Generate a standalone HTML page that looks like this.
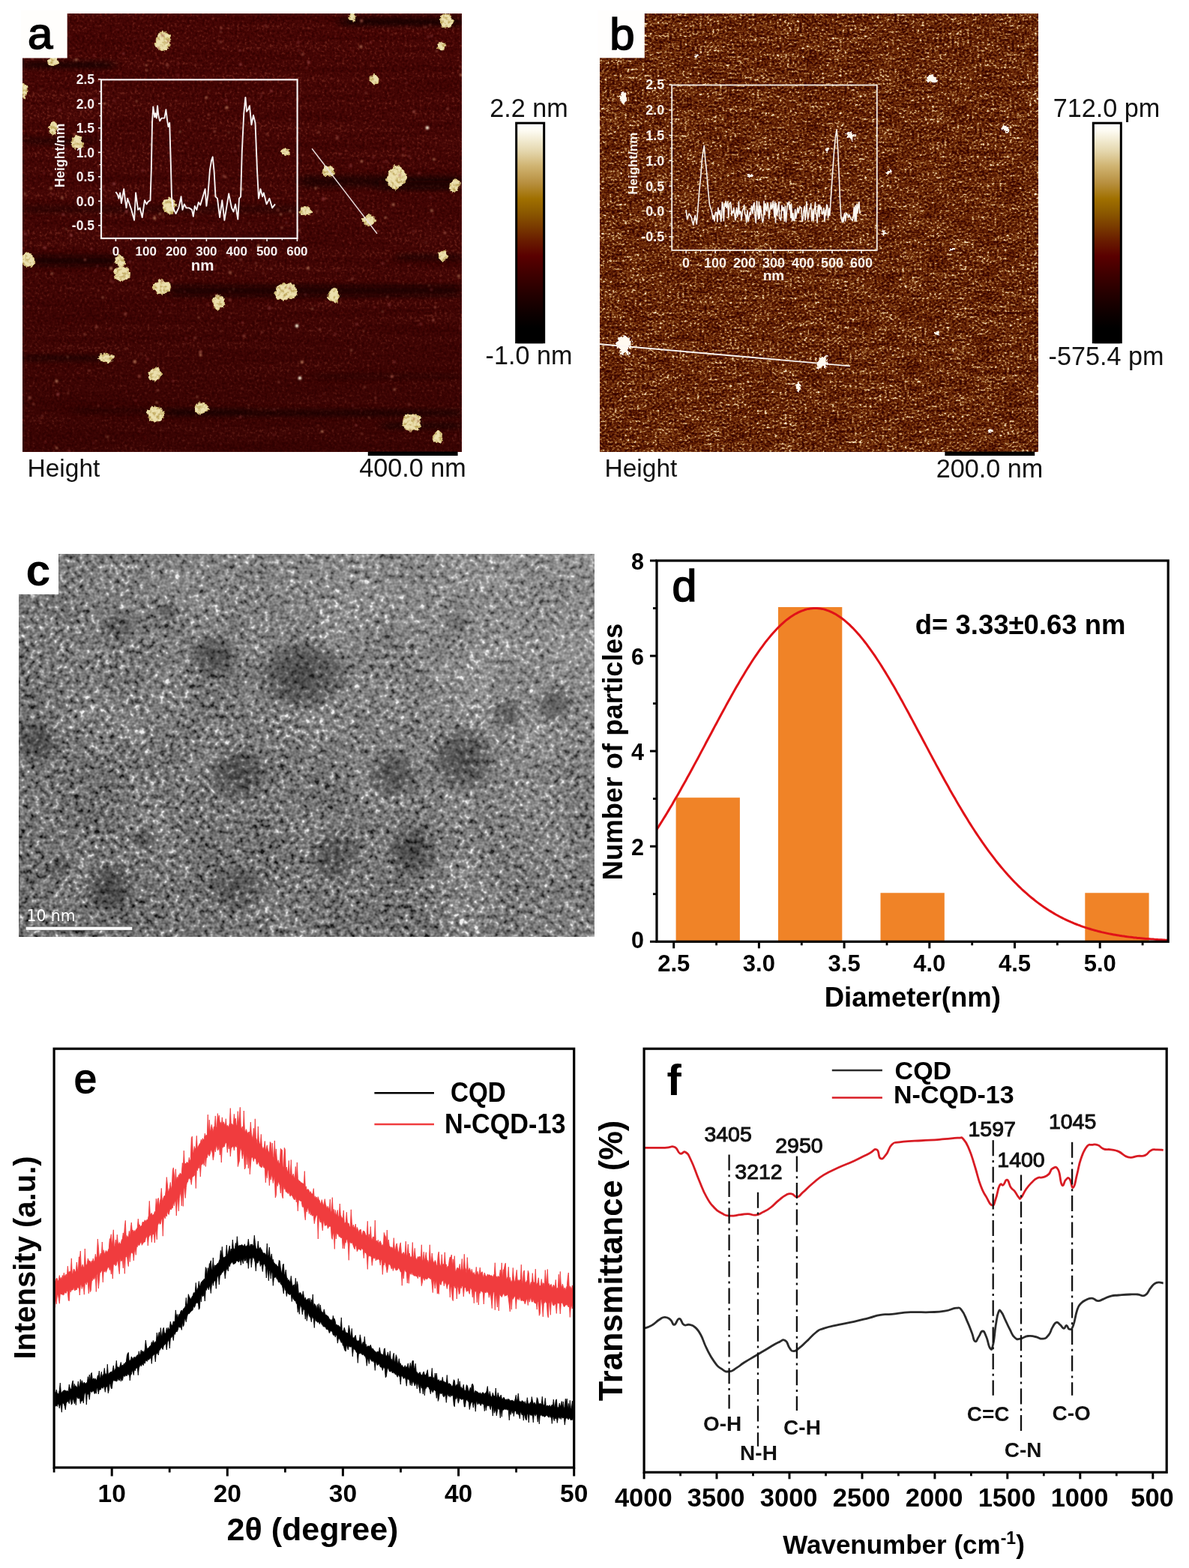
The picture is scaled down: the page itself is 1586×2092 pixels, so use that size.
<!DOCTYPE html>
<html lang="en"><head><meta charset="utf-8"><title>Figure</title>
<style>
html,body{margin:0;padding:0;background:#fff;}
body{width:1586px;height:2092px;overflow:hidden;font-family:"Liberation Sans",Arial,sans-serif;}
svg{display:block;}
svg text{font-family:"Liberation Sans",Arial,sans-serif;}
.b{font-weight:bold;}
</style></head><body>
<svg width="1586" height="2092" viewBox="0 0 1586 2092">
<defs><linearGradient id="cbar" x1="0" y1="0" x2="0" y2="1"><stop offset="0%" stop-color="#ffffff"/><stop offset="3%" stop-color="#fdfbf2"/><stop offset="8%" stop-color="#f0e8cc"/><stop offset="12.4%" stop-color="#e4d6ac"/><stop offset="19%" stop-color="#d0b472"/><stop offset="26.7%" stop-color="#b89040"/><stop offset="34%" stop-color="#a07000"/><stop offset="40%" stop-color="#8c5a00"/><stop offset="46.5%" stop-color="#7a3c00"/><stop offset="52.7%" stop-color="#6a1e00"/><stop offset="60%" stop-color="#5a0000"/><stop offset="68%" stop-color="#400000"/><stop offset="77.5%" stop-color="#240000"/><stop offset="87%" stop-color="#0c0000"/><stop offset="93%" stop-color="#000000"/><stop offset="100%" stop-color="#000000"/></linearGradient><filter id="na" x="30" y="18" width="586" height="585" filterUnits="userSpaceOnUse" color-interpolation-filters="sRGB"><feTurbulence type="fractalNoise" baseFrequency="0.3" numOctaves="2" seed="3"/><feColorMatrix type="matrix" values="1 0 0 0 0  1 0 0 0 0  1 0 0 0 0  0 0 0 0 1" result="n1"/><feTurbulence type="fractalNoise" baseFrequency="0.004 0.09" numOctaves="2" seed="2"/><feColorMatrix type="matrix" values="1 0 0 0 0  1 0 0 0 0  1 0 0 0 0  0 0 0 0 1" result="n2"/><feComposite in="n1" in2="n2" operator="arithmetic" k1="0" k2="1" k3="0.35" k4="-0.175"/><feComponentTransfer><feFuncR type="table" tableValues="0.212 0.212 0.212 0.212 0.212 0.212 0.212 0.212 0.212 0.222 0.231 0.241 0.251 0.258 0.262 0.266 0.271 0.276 0.285 0.294 0.303 0.312 0.332 0.355 0.379 0.402 0.416 0.416 0.416 0.416 0.416 0.416 0.416"/><feFuncG type="table" tableValues="0.004 0.004 0.004 0.004 0.004 0.004 0.004 0.004 0.004 0.007 0.009 0.012 0.015 0.017 0.019 0.020 0.022 0.025 0.030 0.035 0.041 0.046 0.061 0.079 0.097 0.115 0.125 0.125 0.125 0.125 0.125 0.125 0.125"/><feFuncB type="table" tableValues="0.004 0.004 0.004 0.004 0.004 0.004 0.004 0.004 0.004 0.006 0.007 0.009 0.011 0.013 0.015 0.016 0.018 0.020 0.024 0.027 0.031 0.035 0.046 0.059 0.073 0.086 0.094 0.094 0.094 0.094 0.094 0.094 0.094"/></feComponentTransfer></filter><filter id="nb" x="800" y="18" width="585" height="585" filterUnits="userSpaceOnUse" color-interpolation-filters="sRGB"><feTurbulence type="fractalNoise" baseFrequency="0.3 0.36" numOctaves="2" seed="11"/><feColorMatrix type="matrix" values="1 0 0 0 0  1 0 0 0 0  1 0 0 0 0  0 0 0 0 1" result="n1"/><feTurbulence type="fractalNoise" baseFrequency="0.03 0.14" numOctaves="2" seed="4"/><feColorMatrix type="matrix" values="1 0 0 0 0  1 0 0 0 0  1 0 0 0 0  0 0 0 0 1" result="n2"/><feComposite in="n1" in2="n2" operator="arithmetic" k1="0" k2="1" k3="0.34" k4="-0.17"/><feComponentTransfer><feFuncR type="table" tableValues="0.204 0.204 0.204 0.204 0.204 0.204 0.204 0.204 0.204 0.204 0.204 0.204 0.204 0.204 0.204 0.204 0.204 0.217 0.230 0.243 0.256 0.269 0.282 0.295 0.308 0.322 0.334 0.347 0.359 0.371 0.383 0.396 0.408 0.420 0.432 0.445 0.457 0.469 0.483 0.504 0.524 0.545 0.565 0.585 0.617 0.660 0.702 0.745 0.788 0.831 0.872 0.889 0.906 0.922 0.939 0.956 0.973 0.990 1.000 1.000 1.000 1.000 1.000 1.000 1.000"/><feFuncG type="table" tableValues="0.008 0.008 0.008 0.008 0.008 0.008 0.008 0.008 0.008 0.008 0.008 0.008 0.008 0.008 0.008 0.008 0.008 0.016 0.024 0.032 0.041 0.049 0.057 0.065 0.073 0.081 0.090 0.100 0.110 0.120 0.129 0.139 0.149 0.161 0.174 0.186 0.198 0.210 0.226 0.253 0.281 0.308 0.335 0.362 0.403 0.458 0.513 0.568 0.624 0.679 0.732 0.764 0.795 0.827 0.859 0.890 0.922 0.954 0.973 0.973 0.973 0.973 0.973 0.973 0.973"/><feFuncB type="table" tableValues="0.000 0.000 0.000 0.000 0.000 0.000 0.000 0.000 0.000 0.000 0.000 0.000 0.000 0.000 0.000 0.000 0.000 0.001 0.002 0.002 0.003 0.004 0.005 0.006 0.007 0.007 0.009 0.012 0.015 0.018 0.021 0.024 0.027 0.033 0.038 0.044 0.049 0.055 0.064 0.087 0.109 0.132 0.154 0.177 0.215 0.272 0.328 0.384 0.441 0.497 0.553 0.599 0.645 0.691 0.737 0.782 0.828 0.874 0.902 0.902 0.902 0.902 0.902 0.902 0.902"/></feComponentTransfer></filter><filter id="nc" x="25" y="739" width="768" height="511" filterUnits="userSpaceOnUse" color-interpolation-filters="sRGB"><feTurbulence type="fractalNoise" baseFrequency="0.15" numOctaves="2" seed="7"/><feColorMatrix type="matrix" values="1 0 0 0 0  1 0 0 0 0  1 0 0 0 0  0 0 0 0 1" result="n1"/><feTurbulence type="fractalNoise" baseFrequency="0.012" numOctaves="2" seed="8"/><feColorMatrix type="matrix" values="1 0 0 0 0  1 0 0 0 0  1 0 0 0 0  0 0 0 0 1" result="n2"/><feComposite in="n1" in2="n2" operator="arithmetic" k1="0" k2="1" k3="0.22" k4="-0.11"/><feComponentTransfer><feFuncR type="table" tableValues="0.039 0.039 0.039 0.039 0.039 0.039 0.067 0.118 0.169 0.219 0.270 0.313 0.339 0.365 0.391 0.417 0.443 0.471 0.498 0.526 0.553 0.581 0.636 0.703 0.770 0.837 0.904 0.941 0.941 0.941 0.941 0.941 0.941"/><feFuncG type="table" tableValues="0.039 0.039 0.039 0.039 0.039 0.039 0.067 0.118 0.169 0.219 0.270 0.313 0.339 0.365 0.391 0.417 0.443 0.471 0.498 0.526 0.553 0.581 0.636 0.703 0.770 0.837 0.904 0.941 0.941 0.941 0.941 0.941 0.941"/><feFuncB type="table" tableValues="0.039 0.039 0.039 0.039 0.039 0.039 0.067 0.118 0.169 0.219 0.270 0.313 0.339 0.365 0.391 0.417 0.443 0.471 0.498 0.526 0.553 0.581 0.636 0.703 0.770 0.837 0.904 0.941 0.941 0.941 0.941 0.941 0.941"/></feComponentTransfer><feGaussianBlur stdDeviation="0.7"/></filter><filter id="bl2" x="-20%" y="-20%" width="140%" height="140%"><feGaussianBlur stdDeviation="0.8"/></filter><filter id="bl6" x="-30%" y="-200%" width="160%" height="500%"><feGaussianBlur stdDeviation="8 3.5"/></filter><filter id="bl10" x="-50%" y="-50%" width="200%" height="200%"><feGaussianBlur stdDeviation="8"/></filter><radialGradient id="dk"><stop offset="0" stop-color="#000" stop-opacity="0.5"/><stop offset="0.6" stop-color="#000" stop-opacity="0.3"/><stop offset="1" stop-color="#000" stop-opacity="0"/></radialGradient><filter id="blobf" x="28" y="16" width="590" height="590" filterUnits="userSpaceOnUse" color-interpolation-filters="sRGB"><feTurbulence type="fractalNoise" baseFrequency="0.22" numOctaves="2" seed="14" result="t"/><feDisplacementMap in="SourceGraphic" in2="t" scale="5" xChannelSelector="R" yChannelSelector="G" result="d"/><feColorMatrix in="t" type="matrix" values="0 0 0 0 0.70  0 0 0 0 0.60  0 0 0 0 0.28  0 0 2.6 0 -1.2" result="m"/><feComposite in="m" in2="d" operator="in" result="mm"/><feMerge><feMergeNode in="d"/><feMergeNode in="mm"/></feMerge><feGaussianBlur stdDeviation="0.6"/></filter><filter id="spotf" x="798" y="16" width="590" height="590" filterUnits="userSpaceOnUse" color-interpolation-filters="sRGB"><feTurbulence type="fractalNoise" baseFrequency="0.3" numOctaves="2" seed="23" result="t"/><feDisplacementMap in="SourceGraphic" in2="t" scale="7" xChannelSelector="R" yChannelSelector="G"/><feGaussianBlur stdDeviation="0.5"/></filter><linearGradient id="ashade" x1="0" y1="0" x2="0" y2="1"><stop offset="0" stop-color="#200000" stop-opacity="0"/><stop offset="0.45" stop-color="#200000" stop-opacity="0.06"/><stop offset="1" stop-color="#200000" stop-opacity="0.3"/></linearGradient><linearGradient id="cshade" x1="0" y1="1" x2="1" y2="0"><stop offset="0" stop-color="#fff" stop-opacity="0"/><stop offset="0.4" stop-color="#fff" stop-opacity="0.05"/><stop offset="1" stop-color="#fff" stop-opacity="0.24"/></linearGradient></defs>
<rect x="0" y="0" width="1586" height="2092" fill="#ffffff"/>
<g id="panel-a">
<rect x="30" y="18" width="585.2" height="584.6" fill="#440604"/>
<rect x="30" y="18" width="585.2" height="584.6" fill="#470605" filter="url(#na)"/>
<clipPath id="clipa"><rect x="30" y="18" width="585.2" height="584.6"/></clipPath>
<rect x="30" y="18" width="585.2" height="584.6" fill="url(#ashade)"/>
<g clip-path="url(#clipa)"><g filter="url(#bl6)">
<rect x="30.0" y="82.0" width="122.0" height="9.0" fill="#0a0000" opacity="0.6"/>
<rect x="455.0" y="23.5" width="161.0" height="11.0" fill="#0a0000" opacity="0.6"/>
<rect x="30.0" y="183.5" width="96.0" height="9.0" fill="#0a0000" opacity="0.4"/>
<rect x="400.0" y="234.0" width="216.0" height="16.0" fill="#0a0000" opacity="0.45"/>
<rect x="505.0" y="241.0" width="111.0" height="12.0" fill="#0a0000" opacity="0.6"/>
<rect x="30.0" y="274.0" width="370.0" height="10.0" fill="#0a0000" opacity="0.3"/>
<rect x="40.0" y="342.0" width="118.0" height="12.0" fill="#0a0000" opacity="0.8"/>
<rect x="529.0" y="339.0" width="87.0" height="8.0" fill="#0a0000" opacity="0.45"/>
<rect x="225.0" y="381.5" width="391.0" height="13.0" fill="#0a0000" opacity="0.7"/>
<rect x="30.0" y="474.5" width="111.0" height="7.0" fill="#0a0000" opacity="0.5"/>
<rect x="222.0" y="547.0" width="394.0" height="8.0" fill="#0a0000" opacity="0.5"/>
<rect x="510.0" y="564.0" width="106.0" height="8.0" fill="#0a0000" opacity="0.5"/>
<rect x="418.0" y="499.0" width="198.0" height="6.0" fill="#0a0000" opacity="0.25"/>
<rect x="96.0" y="545.0" width="234.0" height="6.0" fill="#0a0000" opacity="0.3"/>
</g></g>
<g clip-path="url(#clipa)"><g filter="url(#blobf)">
<path d="M226.9 54.5 L225.7 61.3 L221.4 66.2 L215.3 67.9 L210.0 64.0 L206.1 58.3 L209.5 51.9 L210.7 45.9 L215.3 41.0 L221.1 43.4 L226.3 47.2Z" fill="#ece0ae" stroke="#e0cc88" stroke-width="1"/>
<path d="M77.8 81.7 L77.8 84.8 L73.8 86.4 L69.4 87.5 L64.8 86.2 L64.0 83.0 L63.3 80.3 L65.5 77.8 L69.2 75.1 L74.6 75.9 L76.8 79.1Z" fill="#ece0ae" stroke="#e0cc88" stroke-width="1"/>
<path d="M474.4 22.7 L472.8 25.8 L471.8 29.1 L469.7 28.3 L468.1 26.7 L465.9 24.9 L466.9 21.0 L467.9 18.2 L469.5 14.7 L471.9 15.7 L473.0 19.4Z" fill="#ece0ae" stroke="#e0cc88" stroke-width="1"/>
<path d="M605.3 27.7 L602.8 33.0 L599.6 37.1 L595.3 36.0 L590.3 36.3 L588.3 30.6 L587.5 24.5 L590.4 19.3 L595.2 19.1 L599.2 19.6 L601.8 23.3Z" fill="#ece0ae" stroke="#e0cc88" stroke-width="1"/>
<path d="M594.0 61.5 L593.1 64.1 L591.3 66.3 L588.3 67.5 L586.2 65.0 L583.2 63.3 L584.0 60.0 L585.7 57.5 L588.2 55.1 L591.5 56.4 L593.6 58.7Z" fill="#ece0ae" stroke="#e0cc88" stroke-width="1"/>
<path d="M505.1 105.9 L504.6 109.9 L501.3 110.9 L498.4 113.9 L496.4 110.0 L493.3 108.0 L493.1 103.8 L496.4 101.9 L498.5 98.5 L501.6 100.2 L504.4 102.2Z" fill="#ece0ae" stroke="#e0cc88" stroke-width="1"/>
<path d="M35.8 121.1 L35.4 125.2 L34.2 128.6 L32.1 132.3 L30.6 127.4 L28.7 124.0 L28.5 117.9 L29.8 112.5 L32.3 112.2 L34.3 112.9 L36.0 115.8Z" fill="#ece0ae" stroke="#e0cc88" stroke-width="1"/>
<path d="M75.9 170.5 L74.0 174.4 L72.8 179.1 L69.9 180.1 L67.0 178.0 L66.9 172.4 L65.2 167.6 L68.0 165.1 L70.0 162.5 L72.7 162.3 L75.3 165.0Z" fill="#ece0ae" stroke="#e0cc88" stroke-width="1"/>
<path d="M110.4 190.7 L110.9 196.1 L106.0 198.6 L101.3 198.5 L97.2 196.7 L95.3 192.8 L95.6 188.7 L97.6 185.1 L101.1 181.5 L106.7 181.2 L108.6 186.7Z" fill="#ece0ae" stroke="#e0cc88" stroke-width="1"/>
<path d="M385.5 202.8 L386.6 205.9 L383.2 207.2 L380.0 207.3 L377.5 206.0 L375.1 204.2 L374.6 201.2 L377.1 199.2 L380.0 198.2 L382.8 199.2 L386.5 199.7Z" fill="#ece0ae" stroke="#e0cc88" stroke-width="1"/>
<path d="M445.0 228.0 L445.3 232.1 L442.5 235.9 L437.9 234.4 L433.3 234.3 L430.1 230.6 L431.1 225.7 L433.2 221.5 L437.9 221.7 L441.9 221.2 L444.3 224.5Z" fill="#ece0ae" stroke="#e0cc88" stroke-width="1"/>
<path d="M543.8 236.1 L539.2 243.2 L534.7 248.8 L527.5 253.2 L520.3 248.5 L515.3 240.9 L517.9 232.1 L521.5 225.3 L527.7 220.5 L534.7 223.1 L539.2 229.0Z" fill="#ece0ae" stroke="#e0cc88" stroke-width="1"/>
<path d="M613.2 247.2 L611.6 251.1 L609.4 254.6 L605.7 257.4 L601.6 254.9 L600.1 249.7 L600.4 244.7 L602.7 241.1 L606.0 240.1 L609.3 240.1 L613.1 242.0Z" fill="#ece0ae" stroke="#e0cc88" stroke-width="1"/>
<path d="M235.9 273.9 L232.8 279.2 L230.0 284.6 L224.6 285.5 L219.9 282.5 L217.2 277.1 L216.8 270.6 L220.7 266.4 L224.6 262.6 L229.2 265.2 L233.2 268.2Z" fill="#ece0ae" stroke="#e0cc88" stroke-width="1"/>
<path d="M416.1 281.5 L414.5 284.8 L410.5 286.2 L406.3 288.2 L402.2 286.1 L400.0 283.1 L401.7 280.2 L402.5 277.0 L406.6 276.4 L411.0 275.9 L413.9 278.4Z" fill="#ece0ae" stroke="#e0cc88" stroke-width="1"/>
<path d="M500.5 294.1 L498.6 297.9 L495.4 300.9 L490.8 300.3 L486.5 299.4 L483.7 296.1 L483.5 291.9 L487.1 289.3 L490.6 286.5 L495.5 287.0 L498.7 290.2Z" fill="#ece0ae" stroke="#e0cc88" stroke-width="1"/>
<path d="M46.6 347.0 L44.9 353.2 L39.9 355.8 L35.1 356.6 L31.5 353.3 L26.9 350.1 L26.6 343.9 L30.7 339.9 L35.0 336.8 L40.2 337.5 L44.2 341.4Z" fill="#ece0ae" stroke="#e0cc88" stroke-width="1"/>
<path d="M166.2 348.0 L166.7 352.7 L163.3 355.2 L159.4 356.1 L156.2 353.6 L153.7 350.3 L153.2 345.6 L155.8 341.9 L159.4 339.8 L162.6 342.5 L165.2 344.5Z" fill="#ece0ae" stroke="#e0cc88" stroke-width="1"/>
<path d="M173.6 364.2 L172.7 370.8 L166.6 373.4 L160.7 376.4 L154.5 373.3 L153.5 366.8 L151.6 361.0 L155.8 356.5 L161.1 355.0 L166.5 355.4 L171.3 358.5Z" fill="#ece0ae" stroke="#e0cc88" stroke-width="1"/>
<path d="M227.7 383.4 L226.0 387.9 L221.1 390.4 L215.2 392.7 L209.2 390.2 L204.4 386.2 L204.5 380.6 L209.7 376.9 L214.8 372.3 L221.0 376.5 L226.9 378.4Z" fill="#ece0ae" stroke="#e0cc88" stroke-width="1"/>
<path d="M299.4 403.5 L298.5 408.5 L294.5 410.8 L290.2 414.3 L286.2 410.4 L284.9 405.7 L282.9 400.7 L286.9 397.5 L290.3 393.9 L294.9 395.4 L299.0 398.2Z" fill="#ece0ae" stroke="#e0cc88" stroke-width="1"/>
<path d="M396.9 389.4 L393.5 395.8 L385.6 398.6 L377.5 401.2 L369.9 397.8 L366.8 392.2 L368.1 386.9 L370.1 381.1 L377.7 378.7 L386.9 378.0 L394.2 382.6Z" fill="#ece0ae" stroke="#e0cc88" stroke-width="1"/>
<path d="M452.9 394.5 L450.9 399.3 L448.6 404.6 L444.0 401.9 L440.7 400.5 L437.4 397.2 L437.2 391.6 L440.6 388.3 L443.7 384.5 L448.6 384.3 L451.0 389.6Z" fill="#ece0ae" stroke="#e0cc88" stroke-width="1"/>
<path d="M596.7 341.5 L595.4 344.7 L593.3 347.0 L590.2 349.4 L587.6 346.3 L584.6 343.7 L584.7 339.3 L587.3 336.2 L590.4 335.5 L594.0 334.2 L596.0 337.9Z" fill="#ece0ae" stroke="#e0cc88" stroke-width="1"/>
<path d="M151.4 477.7 L149.4 480.5 L146.5 483.9 L139.7 483.3 L135.0 481.6 L131.2 479.3 L132.7 476.3 L134.0 473.1 L139.8 472.1 L145.2 472.9 L151.1 474.2Z" fill="#ece0ae" stroke="#e0cc88" stroke-width="1"/>
<path d="M216.6 499.4 L212.6 503.1 L210.4 507.3 L205.7 507.1 L200.2 507.0 L197.6 502.1 L199.4 497.2 L201.7 493.5 L205.8 492.1 L211.1 490.0 L213.4 495.1Z" fill="#ece0ae" stroke="#e0cc88" stroke-width="1"/>
<path d="M219.8 552.3 L217.4 557.4 L212.9 561.6 L206.1 562.2 L199.5 560.3 L198.6 554.6 L195.6 549.3 L200.9 545.7 L206.2 542.7 L212.3 544.2 L216.6 547.6Z" fill="#ece0ae" stroke="#e0cc88" stroke-width="1"/>
<path d="M278.0 544.8 L276.3 548.3 L272.1 550.5 L266.8 552.1 L261.9 550.0 L261.0 546.3 L260.1 543.1 L262.2 539.8 L266.8 537.0 L273.0 537.7 L276.5 541.1Z" fill="#ece0ae" stroke="#e0cc88" stroke-width="1"/>
<path d="M559.7 563.4 L561.5 570.3 L554.8 573.5 L548.0 575.1 L541.0 572.8 L537.2 566.8 L538.0 560.2 L540.3 553.3 L548.1 552.6 L554.7 553.5 L561.8 556.3Z" fill="#ece0ae" stroke="#e0cc88" stroke-width="1"/>
<path d="M590.0 583.6 L589.3 587.4 L587.3 591.5 L583.3 589.8 L579.1 590.2 L577.2 585.9 L577.9 581.5 L580.1 578.3 L583.0 575.2 L587.4 575.5 L588.9 580.1Z" fill="#ece0ae" stroke="#e0cc88" stroke-width="1"/>
</g><g filter="url(#bl2)">
<circle cx="301.0" cy="236.2" r="1.2" fill="#a85a4a" opacity="0.94"/>
<circle cx="33.8" cy="311.9" r="2" fill="#8a3a3a" opacity="0.70"/>
<circle cx="578.0" cy="427.3" r="1.6" fill="#a85a4a" opacity="0.87"/>
<circle cx="294.5" cy="441.9" r="1.2" fill="#a85a4a" opacity="0.66"/>
<circle cx="94.9" cy="314.0" r="2" fill="#8a3a3a" opacity="0.90"/>
<circle cx="254.5" cy="454.2" r="1" fill="#7a2a2a" opacity="0.64"/>
<circle cx="161.3" cy="481.6" r="1" fill="#7a2a2a" opacity="0.96"/>
<circle cx="262.1" cy="217.7" r="1" fill="#a85a4a" opacity="0.87"/>
<circle cx="33.1" cy="258.4" r="1.6" fill="#c08060" opacity="0.61"/>
<circle cx="168.5" cy="448.4" r="1" fill="#94483c" opacity="0.55"/>
<circle cx="477.3" cy="133.6" r="1.2" fill="#7a2a2a" opacity="0.55"/>
<circle cx="78.9" cy="333.5" r="1" fill="#94483c" opacity="0.59"/>
<circle cx="320.7" cy="556.4" r="1.6" fill="#8a3a3a" opacity="0.73"/>
<circle cx="403.8" cy="72.6" r="2" fill="#a85a4a" opacity="0.63"/>
<circle cx="386.3" cy="578.2" r="1" fill="#7a2a2a" opacity="0.80"/>
<circle cx="384.9" cy="105.3" r="1.4" fill="#7a2a2a" opacity="1.00"/>
<circle cx="614.0" cy="88.9" r="1.6" fill="#a85a4a" opacity="0.62"/>
<circle cx="325.5" cy="448.3" r="2" fill="#94483c" opacity="0.80"/>
<circle cx="432.5" cy="525.1" r="1" fill="#94483c" opacity="0.71"/>
<circle cx="152.9" cy="134.2" r="2" fill="#7a2a2a" opacity="0.56"/>
<circle cx="497.8" cy="210.2" r="1.6" fill="#8a3a3a" opacity="0.65"/>
<circle cx="289.8" cy="207.8" r="1" fill="#7a2a2a" opacity="0.83"/>
<circle cx="90.3" cy="476.4" r="1" fill="#c08060" opacity="0.90"/>
<circle cx="502.6" cy="308.7" r="1.2" fill="#94483c" opacity="0.88"/>
<circle cx="278.7" cy="153.0" r="1.6" fill="#94483c" opacity="0.72"/>
<circle cx="533.2" cy="233.9" r="1.4" fill="#a85a4a" opacity="0.86"/>
<circle cx="542.4" cy="35.2" r="1.2" fill="#7a2a2a" opacity="0.98"/>
<circle cx="607.1" cy="372.6" r="1" fill="#8a3a3a" opacity="0.58"/>
<circle cx="152.1" cy="245.3" r="2" fill="#8a3a3a" opacity="0.98"/>
<circle cx="237.5" cy="100.2" r="2" fill="#7a2a2a" opacity="0.61"/>
<circle cx="80.7" cy="343.0" r="1" fill="#8a3a3a" opacity="0.74"/>
<circle cx="113.4" cy="346.5" r="1.6" fill="#94483c" opacity="0.95"/>
<circle cx="128.9" cy="436.3" r="2" fill="#94483c" opacity="0.77"/>
<circle cx="88.1" cy="46.3" r="2" fill="#a85a4a" opacity="0.63"/>
<circle cx="398.5" cy="67.3" r="1.2" fill="#8a3a3a" opacity="0.64"/>
<circle cx="307.2" cy="363.8" r="2" fill="#c08060" opacity="0.59"/>
<circle cx="351.1" cy="364.6" r="1.4" fill="#94483c" opacity="0.58"/>
<circle cx="411.0" cy="357.7" r="2" fill="#c08060" opacity="0.79"/>
<circle cx="336.3" cy="332.0" r="1" fill="#7a2a2a" opacity="0.81"/>
<circle cx="589.1" cy="55.6" r="1.2" fill="#7a2a2a" opacity="0.61"/>
<circle cx="88.3" cy="305.4" r="1" fill="#c08060" opacity="0.95"/>
<circle cx="455.7" cy="414.8" r="1" fill="#7a2a2a" opacity="0.66"/>
<circle cx="298.4" cy="235.0" r="2" fill="#94483c" opacity="0.77"/>
<circle cx="172.3" cy="381.9" r="1" fill="#94483c" opacity="0.57"/>
<circle cx="269.8" cy="362.1" r="1" fill="#a85a4a" opacity="0.57"/>
<circle cx="470.5" cy="67.3" r="1" fill="#7a2a2a" opacity="0.83"/>
<circle cx="350.1" cy="295.5" r="1" fill="#7a2a2a" opacity="0.59"/>
<circle cx="218.1" cy="289.2" r="1.6" fill="#94483c" opacity="0.62"/>
<circle cx="255.9" cy="297.6" r="1.2" fill="#8a3a3a" opacity="0.95"/>
<circle cx="422.8" cy="281.9" r="1.2" fill="#a85a4a" opacity="0.99"/>
<circle cx="93.7" cy="48.8" r="1" fill="#7a2a2a" opacity="0.99"/>
<circle cx="247.9" cy="451.2" r="1.6" fill="#7a2a2a" opacity="0.78"/>
<circle cx="246.2" cy="389.1" r="1.2" fill="#8a3a3a" opacity="0.67"/>
<circle cx="333.0" cy="133.4" r="1.6" fill="#7a2a2a" opacity="0.97"/>
<circle cx="43.0" cy="78.4" r="1.6" fill="#8a3a3a" opacity="0.95"/>
<circle cx="308.3" cy="202.2" r="1.2" fill="#7a2a2a" opacity="0.58"/>
<circle cx="191.0" cy="193.5" r="1.2" fill="#7a2a2a" opacity="0.90"/>
<circle cx="557.7" cy="562.1" r="1.4" fill="#8a3a3a" opacity="0.56"/>
<circle cx="287.1" cy="261.5" r="1.4" fill="#c08060" opacity="0.80"/>
<circle cx="545.5" cy="539.7" r="1.6" fill="#a85a4a" opacity="0.59"/>
<circle cx="206.1" cy="290.8" r="2" fill="#c08060" opacity="0.75"/>
<circle cx="139.0" cy="253.1" r="1.4" fill="#8a3a3a" opacity="0.63"/>
<circle cx="348.3" cy="128.2" r="1.4" fill="#7a2a2a" opacity="0.95"/>
<circle cx="582.3" cy="68.2" r="1.6" fill="#94483c" opacity="0.82"/>
<circle cx="580.4" cy="409.8" r="1.6" fill="#a85a4a" opacity="0.86"/>
<circle cx="481.4" cy="62.3" r="2" fill="#c08060" opacity="0.76"/>
<circle cx="537.3" cy="207.2" r="2" fill="#94483c" opacity="0.59"/>
<circle cx="449.5" cy="184.4" r="2" fill="#a85a4a" opacity="0.58"/>
<circle cx="36.3" cy="556.4" r="1" fill="#8a3a3a" opacity="0.62"/>
<circle cx="125.6" cy="74.2" r="1.6" fill="#7a2a2a" opacity="0.93"/>
<circle cx="257.9" cy="360.9" r="1.2" fill="#94483c" opacity="0.86"/>
<circle cx="240.1" cy="175.8" r="1.4" fill="#c08060" opacity="0.81"/>
<circle cx="497.9" cy="472.3" r="1.2" fill="#94483c" opacity="0.63"/>
<circle cx="209.1" cy="536.9" r="1.4" fill="#c08060" opacity="0.79"/>
<circle cx="471.5" cy="267.7" r="1" fill="#7a2a2a" opacity="0.68"/>
<circle cx="332.5" cy="297.9" r="1.2" fill="#a85a4a" opacity="0.70"/>
<circle cx="467.8" cy="221.2" r="2" fill="#8a3a3a" opacity="0.80"/>
<circle cx="573.6" cy="33.3" r="1.2" fill="#94483c" opacity="0.90"/>
<circle cx="421.5" cy="74.5" r="1.2" fill="#7a2a2a" opacity="0.64"/>
<circle cx="347.8" cy="545.5" r="1.2" fill="#94483c" opacity="0.64"/>
<circle cx="431.3" cy="265.3" r="2" fill="#8a3a3a" opacity="0.97"/>
<circle cx="448.8" cy="308.1" r="1" fill="#7a2a2a" opacity="0.91"/>
<circle cx="263.2" cy="289.0" r="1.2" fill="#94483c" opacity="0.59"/>
<circle cx="127.2" cy="361.4" r="1.4" fill="#7a2a2a" opacity="0.95"/>
<circle cx="479.1" cy="584.5" r="1.2" fill="#94483c" opacity="0.56"/>
<circle cx="417.5" cy="214.1" r="1.2" fill="#a85a4a" opacity="0.56"/>
<circle cx="449.2" cy="360.9" r="1.2" fill="#7a2a2a" opacity="0.92"/>
<circle cx="195.9" cy="93.9" r="1.4" fill="#c08060" opacity="0.57"/>
<circle cx="267.5" cy="473.7" r="1.6" fill="#c08060" opacity="0.98"/>
<circle cx="54.5" cy="119.2" r="1.2" fill="#94483c" opacity="0.87"/>
<circle cx="402.8" cy="483.0" r="2" fill="#c08060" opacity="0.93"/>
<circle cx="492.2" cy="557.2" r="1.2" fill="#c08060" opacity="0.56"/>
<circle cx="614.7" cy="99.9" r="1.6" fill="#c08060" opacity="0.89"/>
<circle cx="519.3" cy="407.1" r="2" fill="#8a3a3a" opacity="0.78"/>
<circle cx="321.6" cy="170.6" r="1.4" fill="#94483c" opacity="0.90"/>
<circle cx="527.3" cy="331.9" r="1.2" fill="#7a2a2a" opacity="0.58"/>
<circle cx="339.3" cy="200.1" r="1" fill="#a85a4a" opacity="0.94"/>
<circle cx="145.9" cy="439.3" r="1.4" fill="#7a2a2a" opacity="0.68"/>
<circle cx="36.8" cy="408.9" r="1.6" fill="#7a2a2a" opacity="0.72"/>
<circle cx="403.7" cy="206.9" r="1.2" fill="#94483c" opacity="0.86"/>
<circle cx="107.9" cy="586.5" r="1" fill="#8a3a3a" opacity="0.64"/>
<circle cx="181.2" cy="534.2" r="1.6" fill="#7a2a2a" opacity="0.71"/>
<circle cx="482.1" cy="547.8" r="1" fill="#7a2a2a" opacity="0.73"/>
<circle cx="279.4" cy="121.1" r="1.2" fill="#94483c" opacity="0.62"/>
<circle cx="365.3" cy="264.6" r="1.2" fill="#7a2a2a" opacity="0.71"/>
<circle cx="331.6" cy="540.4" r="1" fill="#a85a4a" opacity="0.99"/>
<circle cx="213.2" cy="285.4" r="1.4" fill="#c08060" opacity="0.91"/>
<circle cx="341.7" cy="455.1" r="1" fill="#8a3a3a" opacity="0.95"/>
<circle cx="510.4" cy="415.7" r="1.2" fill="#c08060" opacity="0.67"/>
<circle cx="294.5" cy="56.1" r="1.6" fill="#94483c" opacity="0.98"/>
<circle cx="137.0" cy="396.9" r="1.4" fill="#c08060" opacity="0.77"/>
<circle cx="210.8" cy="64.1" r="1.4" fill="#a85a4a" opacity="0.99"/>
<circle cx="590.0" cy="591.0" r="1.2" fill="#94483c" opacity="0.56"/>
<circle cx="200.9" cy="22.6" r="1" fill="#94483c" opacity="0.81"/>
<circle cx="147.6" cy="375.0" r="1.6" fill="#94483c" opacity="0.67"/>
<circle cx="597.2" cy="126.9" r="1" fill="#94483c" opacity="0.79"/>
<circle cx="210.3" cy="520.8" r="1.6" fill="#a85a4a" opacity="0.64"/>
<circle cx="306.7" cy="399.9" r="1.6" fill="#94483c" opacity="0.84"/>
<circle cx="213.8" cy="416.2" r="1.6" fill="#8a3a3a" opacity="0.82"/>
<circle cx="401.4" cy="296.8" r="1" fill="#8a3a3a" opacity="0.73"/>
<circle cx="485.3" cy="441.2" r="1" fill="#c08060" opacity="0.62"/>
<circle cx="587.3" cy="374.4" r="1.6" fill="#7a2a2a" opacity="0.74"/>
<circle cx="320.8" cy="86.1" r="2" fill="#8a3a3a" opacity="0.87"/>
<circle cx="286.3" cy="359.1" r="2" fill="#7a2a2a" opacity="0.67"/>
<circle cx="355.8" cy="179.1" r="1.4" fill="#94483c" opacity="0.88"/>
<circle cx="547.3" cy="575.2" r="1.4" fill="#7a2a2a" opacity="0.90"/>
<circle cx="124.8" cy="591.1" r="1.4" fill="#7a2a2a" opacity="0.76"/>
<circle cx="545.8" cy="208.3" r="1.4" fill="#8a3a3a" opacity="0.98"/>
<circle cx="179.7" cy="482.6" r="2" fill="#c08060" opacity="0.91"/>
<circle cx="70.7" cy="259.4" r="1.6" fill="#7a2a2a" opacity="0.92"/>
<circle cx="294.5" cy="42.6" r="1.2" fill="#a85a4a" opacity="0.92"/>
<circle cx="546.7" cy="353.4" r="1" fill="#8a3a3a" opacity="0.90"/>
<circle cx="536.9" cy="185.9" r="1.6" fill="#7a2a2a" opacity="0.90"/>
<circle cx="291.5" cy="117.9" r="1" fill="#7a2a2a" opacity="0.96"/>
<circle cx="86.4" cy="462.1" r="1.2" fill="#7a2a2a" opacity="0.83"/>
<circle cx="182.2" cy="135.0" r="1.2" fill="#c08060" opacity="0.80"/>
<circle cx="143.5" cy="582.8" r="1.4" fill="#c08060" opacity="0.66"/>
<circle cx="437.5" cy="167.0" r="1.2" fill="#7a2a2a" opacity="0.88"/>
<circle cx="469.9" cy="372.1" r="1.6" fill="#a85a4a" opacity="0.75"/>
<circle cx="101.7" cy="79.7" r="2" fill="#c08060" opacity="0.73"/>
<circle cx="559.3" cy="212.2" r="1.2" fill="#7a2a2a" opacity="0.91"/>
<circle cx="168.3" cy="337.5" r="1" fill="#8a3a3a" opacity="0.59"/>
<circle cx="242.5" cy="289.3" r="1.4" fill="#7a2a2a" opacity="0.65"/>
<circle cx="292.1" cy="540.7" r="1" fill="#7a2a2a" opacity="0.75"/>
<circle cx="430.8" cy="216.8" r="1.4" fill="#8a3a3a" opacity="0.68"/>
<circle cx="150.9" cy="375.7" r="1.6" fill="#8a3a3a" opacity="0.56"/>
<circle cx="361.1" cy="488.6" r="1" fill="#7a2a2a" opacity="0.86"/>
<circle cx="386.6" cy="384.5" r="1.6" fill="#a85a4a" opacity="0.74"/>
<circle cx="450.4" cy="182.2" r="1.6" fill="#8a3a3a" opacity="0.74"/>
<circle cx="194.5" cy="396.0" r="1.2" fill="#a85a4a" opacity="0.76"/>
<circle cx="182.3" cy="233.0" r="1" fill="#94483c" opacity="0.81"/>
<circle cx="195.1" cy="86.9" r="1.2" fill="#c08060" opacity="0.94"/>
<circle cx="466.7" cy="323.4" r="1.4" fill="#7a2a2a" opacity="0.64"/>
<circle cx="425.7" cy="407.0" r="1.2" fill="#8a3a3a" opacity="0.64"/>
<circle cx="475.6" cy="432.5" r="1.6" fill="#8a3a3a" opacity="0.93"/>
<circle cx="447.3" cy="48.5" r="1.2" fill="#7a2a2a" opacity="0.91"/>
<circle cx="406.8" cy="336.1" r="1.6" fill="#94483c" opacity="0.99"/>
<circle cx="152.9" cy="543.3" r="1.2" fill="#8a3a3a" opacity="0.59"/>
<circle cx="156.3" cy="39.8" r="1.2" fill="#7a2a2a" opacity="0.81"/>
<circle cx="190.5" cy="227.6" r="2" fill="#7a2a2a" opacity="0.90"/>
<circle cx="180.6" cy="52.1" r="1.4" fill="#7a2a2a" opacity="0.59"/>
<circle cx="114.6" cy="210.1" r="1" fill="#7a2a2a" opacity="0.97"/>
<circle cx="361.9" cy="121.6" r="2" fill="#8a3a3a" opacity="0.74"/>
<circle cx="444.5" cy="222.0" r="1" fill="#a85a4a" opacity="0.64"/>
<circle cx="113.3" cy="446.3" r="1.6" fill="#94483c" opacity="0.76"/>
<circle cx="611.8" cy="368.3" r="2" fill="#c08060" opacity="0.65"/>
<circle cx="305.2" cy="176.7" r="1" fill="#c08060" opacity="0.81"/>
<circle cx="112.9" cy="111.1" r="1" fill="#c08060" opacity="0.72"/>
<circle cx="139.4" cy="289.8" r="1" fill="#7a2a2a" opacity="0.57"/>
<circle cx="68.3" cy="232.7" r="1.4" fill="#94483c" opacity="0.92"/>
<circle cx="99.7" cy="179.3" r="1.6" fill="#a85a4a" opacity="0.98"/>
<circle cx="597.0" cy="145.3" r="1.6" fill="#94483c" opacity="0.95"/>
<circle cx="236.3" cy="134.3" r="1" fill="#8a3a3a" opacity="0.70"/>
<circle cx="552.3" cy="558.3" r="1.6" fill="#c08060" opacity="0.83"/>
<circle cx="447.4" cy="370.9" r="1" fill="#7a2a2a" opacity="0.70"/>
<circle cx="474.8" cy="567.4" r="1.4" fill="#8a3a3a" opacity="0.98"/>
<circle cx="484.3" cy="285.1" r="1" fill="#7a2a2a" opacity="0.99"/>
<circle cx="575.9" cy="47.9" r="1.6" fill="#8a3a3a" opacity="0.70"/>
<circle cx="411.8" cy="82.9" r="2" fill="#8a3a3a" opacity="0.97"/>
<circle cx="202.0" cy="162.8" r="1.6" fill="#a85a4a" opacity="0.74"/>
<circle cx="58.9" cy="231.2" r="1.6" fill="#7a2a2a" opacity="0.68"/>
<circle cx="353.5" cy="34.0" r="1.6" fill="#7a2a2a" opacity="0.84"/>
<circle cx="313.4" cy="201.7" r="1.2" fill="#8a3a3a" opacity="0.98"/>
<circle cx="613.3" cy="437.9" r="2" fill="#7a2a2a" opacity="0.58"/>
<circle cx="276.7" cy="405.8" r="1.2" fill="#7a2a2a" opacity="0.96"/>
<circle cx="173.5" cy="349.0" r="1.4" fill="#8a3a3a" opacity="0.97"/>
<circle cx="69.4" cy="365.0" r="1.4" fill="#c08060" opacity="0.81"/>
<circle cx="139.8" cy="138.2" r="1.4" fill="#c08060" opacity="0.81"/>
<circle cx="349.1" cy="124.3" r="1" fill="#8a3a3a" opacity="0.89"/>
<circle cx="516.1" cy="215.8" r="1.2" fill="#8a3a3a" opacity="0.90"/>
<circle cx="159.5" cy="98.7" r="1.4" fill="#7a2a2a" opacity="0.66"/>
<circle cx="470.6" cy="541.0" r="1.4" fill="#8a3a3a" opacity="0.63"/>
<circle cx="101.5" cy="92.9" r="1" fill="#8a3a3a" opacity="0.93"/>
<circle cx="593.6" cy="310.7" r="1.6" fill="#a85a4a" opacity="0.98"/>
<circle cx="210.0" cy="76.5" r="1" fill="#7a2a2a" opacity="0.90"/>
<circle cx="486.6" cy="516.5" r="1.6" fill="#a85a4a" opacity="0.63"/>
<circle cx="246.6" cy="458.9" r="1" fill="#8a3a3a" opacity="0.70"/>
<circle cx="77.2" cy="526.1" r="2" fill="#8a3a3a" opacity="0.98"/>
<circle cx="88.8" cy="199.9" r="2" fill="#7a2a2a" opacity="0.56"/>
<circle cx="514.3" cy="290.2" r="1.4" fill="#c08060" opacity="0.93"/>
<circle cx="90.8" cy="524.6" r="1.2" fill="#a85a4a" opacity="0.78"/>
<circle cx="359.2" cy="411.0" r="2" fill="#8a3a3a" opacity="0.87"/>
<circle cx="59.8" cy="330.5" r="2" fill="#8a3a3a" opacity="0.83"/>
<circle cx="92.5" cy="431.6" r="1" fill="#7a2a2a" opacity="0.57"/>
<circle cx="60.4" cy="590.2" r="1.2" fill="#7a2a2a" opacity="0.80"/>
<circle cx="260.3" cy="450.8" r="2" fill="#94483c" opacity="0.67"/>
<circle cx="609.6" cy="562.6" r="1" fill="#a85a4a" opacity="0.57"/>
<circle cx="168.7" cy="282.2" r="2" fill="#8a3a3a" opacity="0.96"/>
<circle cx="551.7" cy="308.7" r="1.6" fill="#8a3a3a" opacity="0.56"/>
<circle cx="83.5" cy="568.1" r="1" fill="#7a2a2a" opacity="0.69"/>
<circle cx="448.9" cy="161.8" r="1" fill="#8a3a3a" opacity="0.83"/>
<circle cx="98.6" cy="238.1" r="1.2" fill="#8a3a3a" opacity="0.59"/>
<circle cx="570.8" cy="363.6" r="1" fill="#7a2a2a" opacity="0.66"/>
<circle cx="502.2" cy="589.2" r="1" fill="#7a2a2a" opacity="0.58"/>
<circle cx="306.0" cy="362.0" r="1" fill="#a85a4a" opacity="0.78"/>
<circle cx="578.8" cy="212.5" r="1.6" fill="#c08060" opacity="0.97"/>
<circle cx="541.3" cy="574.8" r="1" fill="#7a2a2a" opacity="1.00"/>
<circle cx="224.0" cy="228.3" r="1.2" fill="#7a2a2a" opacity="0.91"/>
<circle cx="374.6" cy="286.0" r="1.6" fill="#c08060" opacity="0.78"/>
<circle cx="371.0" cy="106.6" r="1" fill="#7a2a2a" opacity="0.77"/>
<circle cx="122.1" cy="332.3" r="1.6" fill="#8a3a3a" opacity="0.74"/>
<circle cx="386.6" cy="159.2" r="1.2" fill="#94483c" opacity="0.95"/>
<circle cx="468.6" cy="467.1" r="1.6" fill="#c08060" opacity="0.57"/>
<circle cx="482.6" cy="578.8" r="1.4" fill="#94483c" opacity="0.83"/>
<circle cx="116.4" cy="580.2" r="1" fill="#8a3a3a" opacity="0.77"/>
<circle cx="398.7" cy="307.6" r="2" fill="#94483c" opacity="0.72"/>
<circle cx="561.4" cy="432.6" r="2" fill="#7a2a2a" opacity="0.84"/>
<circle cx="484.2" cy="342.9" r="1.2" fill="#94483c" opacity="0.77"/>
<circle cx="302.0" cy="133.8" r="2" fill="#7a2a2a" opacity="0.97"/>
<circle cx="52.3" cy="561.1" r="1.2" fill="#7a2a2a" opacity="0.90"/>
<circle cx="44.7" cy="539.3" r="1.6" fill="#a85a4a" opacity="0.62"/>
<circle cx="188.8" cy="329.6" r="1" fill="#94483c" opacity="0.99"/>
<circle cx="132.1" cy="106.4" r="1.6" fill="#a85a4a" opacity="0.74"/>
<circle cx="510.4" cy="351.6" r="2" fill="#8a3a3a" opacity="0.55"/>
<circle cx="323.1" cy="518.4" r="1" fill="#a85a4a" opacity="0.70"/>
<circle cx="294.9" cy="37.2" r="1.2" fill="#a85a4a" opacity="0.96"/>
<circle cx="520.1" cy="192.0" r="1.6" fill="#7a2a2a" opacity="0.55"/>
<circle cx="73.0" cy="594.9" r="1" fill="#7a2a2a" opacity="0.96"/>
<circle cx="252.2" cy="160.8" r="1.6" fill="#a85a4a" opacity="0.95"/>
<circle cx="409.0" cy="90.7" r="1.6" fill="#7a2a2a" opacity="0.75"/>
<circle cx="228.9" cy="374.3" r="2" fill="#7a2a2a" opacity="0.87"/>
<circle cx="267.4" cy="469.6" r="2" fill="#a85a4a" opacity="0.82"/>
<circle cx="425.2" cy="176.6" r="1.6" fill="#94483c" opacity="0.89"/>
<circle cx="132.3" cy="284.1" r="1" fill="#8a3a3a" opacity="0.73"/>
<circle cx="129.9" cy="355.0" r="1.4" fill="#8a3a3a" opacity="0.67"/>
<circle cx="84.4" cy="286.2" r="2" fill="#8a3a3a" opacity="0.75"/>
<circle cx="524.6" cy="272.9" r="2" fill="#c08060" opacity="0.76"/>
<circle cx="167.1" cy="419.1" r="2" fill="#94483c" opacity="0.81"/>
<circle cx="294.5" cy="592.1" r="1.2" fill="#8a3a3a" opacity="0.63"/>
<circle cx="482.5" cy="215.2" r="1.6" fill="#c08060" opacity="0.95"/>
<circle cx="322.4" cy="252.2" r="2" fill="#c08060" opacity="0.73"/>
<circle cx="424.1" cy="567.5" r="1" fill="#94483c" opacity="0.94"/>
<circle cx="434.2" cy="275.4" r="1" fill="#8a3a3a" opacity="0.77"/>
<circle cx="126.8" cy="131.9" r="2" fill="#7a2a2a" opacity="0.83"/>
<circle cx="575.4" cy="386.6" r="2" fill="#7a2a2a" opacity="0.56"/>
<circle cx="222.9" cy="87.1" r="2" fill="#a85a4a" opacity="0.69"/>
<circle cx="387.4" cy="215.0" r="1" fill="#7a2a2a" opacity="0.65"/>
<circle cx="575.9" cy="280.9" r="2" fill="#c08060" opacity="0.73"/>
<circle cx="282.5" cy="352.2" r="1.2" fill="#7a2a2a" opacity="0.93"/>
<circle cx="407.3" cy="392.9" r="1.6" fill="#8a3a3a" opacity="0.60"/>
<circle cx="488.2" cy="124.2" r="1.4" fill="#a85a4a" opacity="0.65"/>
<circle cx="92.3" cy="601.4" r="2" fill="#7a2a2a" opacity="0.78"/>
<circle cx="144.7" cy="165.7" r="1.6" fill="#7a2a2a" opacity="0.57"/>
<circle cx="216.6" cy="47.3" r="1.6" fill="#94483c" opacity="0.86"/>
<circle cx="224.2" cy="55.5" r="1.6" fill="#a85a4a" opacity="0.57"/>
<circle cx="533.3" cy="375.4" r="1" fill="#7a2a2a" opacity="0.88"/>
<circle cx="275.3" cy="130.2" r="1.6" fill="#c08060" opacity="0.85"/>
<circle cx="67.9" cy="251.2" r="2" fill="#c08060" opacity="0.67"/>
<circle cx="511.2" cy="512.7" r="1.2" fill="#7a2a2a" opacity="0.85"/>
<circle cx="437.6" cy="403.7" r="1.2" fill="#7a2a2a" opacity="0.89"/>
<circle cx="323.2" cy="430.4" r="1.6" fill="#7a2a2a" opacity="0.92"/>
<circle cx="416.7" cy="412.1" r="1.4" fill="#c08060" opacity="0.78"/>
<circle cx="260.4" cy="359.4" r="1.2" fill="#7a2a2a" opacity="0.66"/>
<circle cx="206.3" cy="291.4" r="1.6" fill="#c08060" opacity="0.81"/>
<circle cx="49.0" cy="365.6" r="1" fill="#c08060" opacity="0.62"/>
<circle cx="194.8" cy="317.4" r="1" fill="#8a3a3a" opacity="0.75"/>
<circle cx="571.0" cy="294.4" r="1" fill="#8a3a3a" opacity="0.96"/>
<circle cx="607.4" cy="580.4" r="1.2" fill="#8a3a3a" opacity="0.81"/>
<circle cx="106.1" cy="336.3" r="1" fill="#7a2a2a" opacity="0.69"/>
<circle cx="56.2" cy="554.7" r="1.2" fill="#94483c" opacity="0.91"/>
<circle cx="138.6" cy="249.0" r="1.4" fill="#8a3a3a" opacity="0.68"/>
<circle cx="522.5" cy="46.1" r="1" fill="#94483c" opacity="0.80"/>
<circle cx="464.4" cy="195.6" r="1" fill="#94483c" opacity="0.75"/>
<circle cx="168.9" cy="522.4" r="1.2" fill="#7a2a2a" opacity="0.60"/>
<circle cx="248.7" cy="275.4" r="2" fill="#7a2a2a" opacity="0.98"/>
<circle cx="263.0" cy="529.5" r="1.2" fill="#c08060" opacity="0.71"/>
<circle cx="453.2" cy="206.2" r="1.2" fill="#8a3a3a" opacity="0.86"/>
<circle cx="382.0" cy="296.9" r="1.6" fill="#8a3a3a" opacity="0.66"/>
<circle cx="75.5" cy="508.4" r="2" fill="#c08060" opacity="0.87"/>
<circle cx="131.2" cy="541.4" r="1" fill="#a85a4a" opacity="0.90"/>
<circle cx="305.7" cy="342.0" r="2" fill="#7a2a2a" opacity="0.98"/>
<circle cx="499.6" cy="409.9" r="1.6" fill="#7a2a2a" opacity="0.90"/>
<circle cx="351.7" cy="320.1" r="1.2" fill="#c08060" opacity="0.66"/>
<circle cx="371.8" cy="509.8" r="1.2" fill="#a85a4a" opacity="0.92"/>
<circle cx="306.1" cy="423.6" r="1.2" fill="#8a3a3a" opacity="1.00"/>
<circle cx="167.6" cy="465.6" r="1.4" fill="#94483c" opacity="0.77"/>
<circle cx="39.7" cy="530.7" r="2" fill="#a85a4a" opacity="0.76"/>
<circle cx="542.9" cy="110.6" r="1.4" fill="#7a2a2a" opacity="0.96"/>
<circle cx="75.7" cy="597.7" r="1.6" fill="#c08060" opacity="0.72"/>
<circle cx="232.8" cy="148.2" r="1" fill="#7a2a2a" opacity="0.89"/>
<circle cx="283.7" cy="423.8" r="1.6" fill="#7a2a2a" opacity="0.59"/>
<circle cx="349.8" cy="443.1" r="1.2" fill="#a85a4a" opacity="0.83"/>
<circle cx="187.7" cy="24.5" r="1" fill="#c08060" opacity="0.59"/>
<circle cx="396.8" cy="132.5" r="1.4" fill="#a85a4a" opacity="0.78"/>
<circle cx="365.5" cy="546.0" r="1.2" fill="#8a3a3a" opacity="0.95"/>
<circle cx="426.5" cy="439.4" r="1.4" fill="#a85a4a" opacity="0.97"/>
<circle cx="541.6" cy="120.8" r="1" fill="#a85a4a" opacity="0.66"/>
<circle cx="188.4" cy="472.3" r="1.4" fill="#94483c" opacity="0.57"/>
<circle cx="321.2" cy="346.5" r="2" fill="#94483c" opacity="0.61"/>
<circle cx="403.5" cy="316.8" r="1.4" fill="#7a2a2a" opacity="0.73"/>
<circle cx="118.4" cy="494.5" r="1.4" fill="#94483c" opacity="0.83"/>
<circle cx="361.7" cy="358.9" r="1.2" fill="#a85a4a" opacity="0.94"/>
<circle cx="185.9" cy="502.0" r="2" fill="#94483c" opacity="0.85"/>
<circle cx="374.3" cy="438.5" r="1.2" fill="#a85a4a" opacity="0.89"/>
<circle cx="51.4" cy="478.5" r="1" fill="#94483c" opacity="0.57"/>
<circle cx="408.1" cy="142.2" r="1" fill="#8a3a3a" opacity="0.66"/>
<circle cx="260.8" cy="86.4" r="1.4" fill="#94483c" opacity="0.56"/>
<circle cx="306.6" cy="389.2" r="1" fill="#94483c" opacity="0.82"/>
<circle cx="213.8" cy="458.8" r="1.4" fill="#94483c" opacity="0.72"/>
<circle cx="164.8" cy="71.6" r="1.6" fill="#8a3a3a" opacity="0.92"/>
<circle cx="186.7" cy="575.4" r="1.4" fill="#7a2a2a" opacity="0.72"/>
<circle cx="79.5" cy="147.1" r="2" fill="#7a2a2a" opacity="0.95"/>
<circle cx="229.7" cy="406.2" r="1.6" fill="#7a2a2a" opacity="0.61"/>
<circle cx="319.9" cy="67.4" r="1.4" fill="#8a3a3a" opacity="0.93"/>
<circle cx="341.4" cy="351.2" r="1.4" fill="#94483c" opacity="0.86"/>
<circle cx="494.6" cy="56.7" r="1.6" fill="#7a2a2a" opacity="0.78"/>
<circle cx="230.6" cy="508.3" r="1.6" fill="#7a2a2a" opacity="0.78"/>
<circle cx="568.2" cy="323.8" r="1.2" fill="#a85a4a" opacity="0.58"/>
<circle cx="538.0" cy="198.8" r="2" fill="#7a2a2a" opacity="0.78"/>
<circle cx="397.8" cy="56.4" r="2" fill="#7a2a2a" opacity="0.85"/>
<circle cx="196.6" cy="478.9" r="2" fill="#7a2a2a" opacity="0.75"/>
<circle cx="139.9" cy="113.7" r="1.4" fill="#a85a4a" opacity="0.77"/>
<circle cx="575.8" cy="421.5" r="1.2" fill="#94483c" opacity="0.66"/>
<circle cx="567.6" cy="36.3" r="1.2" fill="#a85a4a" opacity="0.77"/>
<circle cx="286.3" cy="175.5" r="1.4" fill="#a85a4a" opacity="0.86"/>
<circle cx="192.8" cy="583.5" r="1" fill="#7a2a2a" opacity="0.59"/>
<circle cx="310.4" cy="336.4" r="1" fill="#8a3a3a" opacity="0.83"/>
<circle cx="559.6" cy="231.0" r="2" fill="#7a2a2a" opacity="0.61"/>
<circle cx="148.0" cy="358.0" r="2" fill="#c08060" opacity="0.95"/>
<circle cx="512.1" cy="216.1" r="1.4" fill="#7a2a2a" opacity="0.88"/>
<circle cx="421.1" cy="250.8" r="1.6" fill="#c08060" opacity="0.70"/>
<circle cx="427.6" cy="528.3" r="1.2" fill="#7a2a2a" opacity="0.77"/>
<circle cx="201.0" cy="192.9" r="1.2" fill="#c08060" opacity="0.95"/>
<circle cx="552.1" cy="148.9" r="2" fill="#94483c" opacity="0.97"/>
<circle cx="275.4" cy="197.3" r="1" fill="#7a2a2a" opacity="0.91"/>
<circle cx="482.2" cy="27.8" r="2" fill="#a85a4a" opacity="0.86"/>
<circle cx="237.2" cy="85.0" r="1.4" fill="#7a2a2a" opacity="0.82"/>
<circle cx="311.6" cy="385.4" r="1" fill="#c08060" opacity="0.58"/>
<circle cx="287.7" cy="393.0" r="1.6" fill="#7a2a2a" opacity="0.82"/>
<circle cx="302.5" cy="143.6" r="2" fill="#c08060" opacity="0.88"/>
<circle cx="216.0" cy="374.3" r="1.4" fill="#94483c" opacity="0.87"/>
<circle cx="429.6" cy="575.7" r="1.6" fill="#c08060" opacity="1.00"/>
<circle cx="356.2" cy="35.4" r="1" fill="#a85a4a" opacity="0.95"/>
<circle cx="500.7" cy="530.9" r="1.4" fill="#a85a4a" opacity="0.69"/>
<circle cx="526.2" cy="519.5" r="1.6" fill="#c08060" opacity="0.76"/>
<circle cx="390.3" cy="103.5" r="2" fill="#7a2a2a" opacity="0.61"/>
<circle cx="283.7" cy="25.2" r="1" fill="#94483c" opacity="0.96"/>
<circle cx="376.0" cy="303.7" r="1.2" fill="#c08060" opacity="0.79"/>
<circle cx="526.2" cy="482.9" r="1.6" fill="#8a3a3a" opacity="0.72"/>
<circle cx="386.9" cy="281.5" r="1.4" fill="#c08060" opacity="0.76"/>
<circle cx="447.3" cy="445.8" r="1.4" fill="#8a3a3a" opacity="0.96"/>
<circle cx="133.7" cy="162.0" r="1" fill="#94483c" opacity="0.84"/>
<circle cx="516.4" cy="347.7" r="1.2" fill="#a85a4a" opacity="0.57"/>
<circle cx="248.6" cy="190.8" r="2" fill="#7a2a2a" opacity="0.60"/>
<circle cx="82.9" cy="263.9" r="1.6" fill="#c08060" opacity="0.86"/>
<circle cx="577.6" cy="289.3" r="1.2" fill="#8a3a3a" opacity="0.69"/>
<circle cx="341.6" cy="91.8" r="1.2" fill="#7a2a2a" opacity="0.71"/>
<circle cx="265.0" cy="423.7" r="1.2" fill="#c08060" opacity="0.71"/>
<circle cx="365.0" cy="580.2" r="1.4" fill="#7a2a2a" opacity="0.78"/>
<circle cx="509.9" cy="223.5" r="1.4" fill="#94483c" opacity="0.56"/>
<circle cx="139.9" cy="303.1" r="1.6" fill="#7a2a2a" opacity="0.89"/>
<circle cx="574.4" cy="263.5" r="1.4" fill="#8a3a3a" opacity="0.88"/>
<circle cx="399.7" cy="128.8" r="1.4" fill="#7a2a2a" opacity="0.85"/>
<circle cx="572.4" cy="380.7" r="1" fill="#c08060" opacity="0.69"/>
<circle cx="344.7" cy="328.3" r="2" fill="#c08060" opacity="0.89"/>
<circle cx="522.7" cy="502.2" r="2" fill="#a85a4a" opacity="0.87"/>
<circle cx="103.8" cy="496.3" r="1.4" fill="#7a2a2a" opacity="0.56"/>
<circle cx="516.8" cy="396.1" r="1.4" fill="#94483c" opacity="0.92"/>
<circle cx="370.7" cy="279.6" r="2" fill="#94483c" opacity="0.57"/>
<circle cx="571.2" cy="49.2" r="1.6" fill="#7a2a2a" opacity="0.92"/>
<circle cx="570.0" cy="170.5" r="2.2" fill="#fff6dc"/>
<circle cx="400.0" cy="504.4" r="2.2" fill="#fff6dc"/>
<circle cx="396.0" cy="434.8" r="2.2" fill="#fff6dc"/>
<circle cx="630.5" cy="171.5" r="2.2" fill="#fff6dc"/>
</g></g>
<line x1="416.1" y1="198.2" x2="503" y2="311.7" stroke="#eadfdf" stroke-width="1.4"/>
<rect x="27.9" y="13.8" width="61.8" height="63.7" fill="#fffefc"/>
<text x="53.6" y="65.4" font-size="60" text-anchor="middle" fill="#000" stroke="#000" stroke-width="1.7">a</text>
<rect x="135" y="106.3" width="261.6" height="211.7" fill="none" stroke="#f4f0f0" stroke-width="2.2"/>
<line x1="131" y1="105.8" x2="135" y2="105.8" stroke="#f4f0f0" stroke-width="1.6"/>
<text x="126" y="112.0" font-size="17.5" text-anchor="end" class="b" fill="#f6f2f2">2.5</text>
<line x1="131" y1="138.3" x2="135" y2="138.3" stroke="#f4f0f0" stroke-width="1.6"/>
<text x="126" y="144.5" font-size="17.5" text-anchor="end" class="b" fill="#f6f2f2">2.0</text>
<line x1="131" y1="170.8" x2="135" y2="170.8" stroke="#f4f0f0" stroke-width="1.6"/>
<text x="126" y="177.0" font-size="17.5" text-anchor="end" class="b" fill="#f6f2f2">1.5</text>
<line x1="131" y1="203.3" x2="135" y2="203.3" stroke="#f4f0f0" stroke-width="1.6"/>
<text x="126" y="209.5" font-size="17.5" text-anchor="end" class="b" fill="#f6f2f2">1.0</text>
<line x1="131" y1="235.8" x2="135" y2="235.8" stroke="#f4f0f0" stroke-width="1.6"/>
<text x="126" y="242.0" font-size="17.5" text-anchor="end" class="b" fill="#f6f2f2">0.5</text>
<line x1="131" y1="268.3" x2="135" y2="268.3" stroke="#f4f0f0" stroke-width="1.6"/>
<text x="126" y="274.5" font-size="17.5" text-anchor="end" class="b" fill="#f6f2f2">0.0</text>
<line x1="131" y1="300.8" x2="135" y2="300.8" stroke="#f4f0f0" stroke-width="1.6"/>
<text x="126" y="307.0" font-size="17.5" text-anchor="end" class="b" fill="#f6f2f2">-0.5</text>
<line x1="132.5" y1="122.1" x2="135" y2="122.1" stroke="#f4f0f0" stroke-width="1.2"/>
<line x1="132.5" y1="154.6" x2="135" y2="154.6" stroke="#f4f0f0" stroke-width="1.2"/>
<line x1="132.5" y1="187.1" x2="135" y2="187.1" stroke="#f4f0f0" stroke-width="1.2"/>
<line x1="132.5" y1="219.6" x2="135" y2="219.6" stroke="#f4f0f0" stroke-width="1.2"/>
<line x1="132.5" y1="252.1" x2="135" y2="252.1" stroke="#f4f0f0" stroke-width="1.2"/>
<line x1="132.5" y1="284.6" x2="135" y2="284.6" stroke="#f4f0f0" stroke-width="1.2"/>
<line x1="154.4" y1="318" x2="154.4" y2="322" stroke="#f4f0f0" stroke-width="1.6"/>
<text x="154.4" y="340.5" font-size="17" text-anchor="middle" class="b" fill="#f6f2f2">0</text>
<line x1="194.7" y1="318" x2="194.7" y2="322" stroke="#f4f0f0" stroke-width="1.6"/>
<text x="194.7" y="340.5" font-size="17" text-anchor="middle" class="b" fill="#f6f2f2">100</text>
<line x1="235.1" y1="318" x2="235.1" y2="322" stroke="#f4f0f0" stroke-width="1.6"/>
<text x="235.1" y="340.5" font-size="17" text-anchor="middle" class="b" fill="#f6f2f2">200</text>
<line x1="275.4" y1="318" x2="275.4" y2="322" stroke="#f4f0f0" stroke-width="1.6"/>
<text x="275.4" y="340.5" font-size="17" text-anchor="middle" class="b" fill="#f6f2f2">300</text>
<line x1="315.8" y1="318" x2="315.8" y2="322" stroke="#f4f0f0" stroke-width="1.6"/>
<text x="315.8" y="340.5" font-size="17" text-anchor="middle" class="b" fill="#f6f2f2">400</text>
<line x1="356.1" y1="318" x2="356.1" y2="322" stroke="#f4f0f0" stroke-width="1.6"/>
<text x="356.1" y="340.5" font-size="17" text-anchor="middle" class="b" fill="#f6f2f2">500</text>
<line x1="396.4" y1="318" x2="396.4" y2="322" stroke="#f4f0f0" stroke-width="1.6"/>
<text x="396.4" y="340.5" font-size="17" text-anchor="middle" class="b" fill="#f6f2f2">600</text>
<line x1="174.6" y1="318" x2="174.6" y2="320.5" stroke="#f4f0f0" stroke-width="1.2"/>
<line x1="214.9" y1="318" x2="214.9" y2="320.5" stroke="#f4f0f0" stroke-width="1.2"/>
<line x1="255.2" y1="318" x2="255.2" y2="320.5" stroke="#f4f0f0" stroke-width="1.2"/>
<line x1="295.6" y1="318" x2="295.6" y2="320.5" stroke="#f4f0f0" stroke-width="1.2"/>
<line x1="335.9" y1="318" x2="335.9" y2="320.5" stroke="#f4f0f0" stroke-width="1.2"/>
<line x1="376.3" y1="318" x2="376.3" y2="320.5" stroke="#f4f0f0" stroke-width="1.2"/>
<text x="270" y="361" font-size="20.5" text-anchor="middle" class="b" fill="#f6f2f2">nm</text>
<text transform="translate(85.5 207.5) rotate(-90)" font-size="17.5" text-anchor="middle" class="b" fill="#f6f2f2">Height/nm</text>
<path d="M154.4 256.0 L156.9 259.8 L158.4 264.8 L160.2 257.3 L161.9 271.1 L165.2 252.2 L167.0 267.3 L168.5 277.4 L170.2 264.8 L172.8 272.4 L175.3 279.9 L179.1 293.8 L181.1 257.3 L184.1 279.9 L186.6 277.4 L189.7 290.0 L192.9 267.3 L195.5 272.4 L198.0 268.6 L200.5 267.3 L201.8 227.0 L203.0 163.9 L204.3 142.5 L206.3 156.4 L207.3 151.3 L208.8 157.6 L210.1 141.2 L211.3 153.8 L213.1 161.4 L215.6 157.6 L219.4 157.6 L221.4 146.3 L223.2 161.4 L224.5 169.0 L226.2 163.9 L227.7 214.4 L229.0 262.3 L230.8 277.4 L234.6 285.0 L238.3 277.4 L241.6 262.3 L243.4 279.9 L245.9 272.4 L248.4 277.4 L252.2 277.4 L256.0 279.9 L257.8 288.8 L259.8 274.9 L262.3 279.9 L264.8 269.9 L267.3 273.6 L269.9 264.8 L273.6 252.2 L275.4 274.9 L277.4 259.8 L279.9 227.0 L282.0 214.4 L283.7 209.3 L285.5 227.0 L287.5 262.3 L290.0 264.8 L293.1 290.0 L296.3 267.3 L299.4 293.8 L302.1 277.4 L305.2 258.5 L309.0 277.4 L311.5 282.5 L314.0 272.4 L317.3 292.6 L319.0 264.8 L321.1 262.3 L322.8 201.8 L325.3 151.3 L327.4 129.9 L329.1 148.8 L330.9 146.3 L332.9 141.2 L335.4 166.5 L338.0 153.8 L340.5 163.9 L343.0 227.0 L345.0 264.8 L347.5 252.2 L350.1 262.3 L351.8 257.3 L355.6 272.4 L359.4 264.8 L363.2 277.4 L367.0 272.4" fill="none" stroke="#f8f4f4" stroke-width="1.9" stroke-linejoin="round"/>
<text x="36.5" y="635.6" font-size="33.5" fill="#111">Height</text>
<rect x="490.8" y="602.5" width="119.8" height="5.5" fill="#000"/>
<text x="550.5" y="635.6" font-size="34.2" text-anchor="middle" fill="#111">400.0 nm</text>
<rect x="687.2" y="162.7" width="40" height="295.5" fill="#000"/>
<rect x="690.2" y="165.7" width="34" height="292.5" fill="url(#cbar)"/>
<text x="705.6" y="156.3" font-size="34.2" text-anchor="middle" fill="#111">2.2 nm</text>
<text x="705.5" y="486" font-size="34.2" text-anchor="middle" fill="#111">-1.0 nm</text>
</g>
<g id="panel-b">
<rect x="800" y="18" width="584.5" height="584.5" fill="#74300c"/>
<rect x="800" y="18" width="584.5" height="584.5" fill="#6c2f0c" filter="url(#nb)"/>
<clipPath id="clipb"><rect x="800" y="18" width="584.5" height="584.5"/></clipPath>
<g clip-path="url(#clipb)"><g filter="url(#spotf)">
<path d="M835.4 130.1 L834.9 134.1 L833.4 137.1 L831.4 138.1 L829.4 137.1 L827.9 134.1 L827.4 130.1 L827.9 126.1 L829.4 123.2 L831.4 122.1 L833.4 123.2 L834.9 126.1Z" fill="#fffaf0"/>
<path d="M1248.7 104.9 L1250.5 108.7 L1247.6 111.1 L1244.0 111.3 L1241.5 109.2 L1237.1 108.9 L1235.9 104.9 L1238.3 101.6 L1240.8 99.3 L1244.0 99.8 L1245.9 101.6 L1249.0 102.0Z" fill="#fffaf0"/>
<path d="M1347.3 172.5 L1345.0 174.0 L1345.2 177.5 L1342.4 176.1 L1340.6 175.6 L1339.8 174.0 L1335.9 172.5 L1337.6 169.7 L1339.4 167.3 L1342.4 167.4 L1343.8 170.0 L1345.8 170.5Z" fill="#fffaf0"/>
<path d="M1140.6 181.6 L1138.4 183.5 L1138.8 188.2 L1135.1 186.5 L1133.1 185.1 L1129.0 185.1 L1131.2 181.6 L1128.6 177.9 L1132.4 177.0 L1135.1 175.8 L1137.5 177.4 L1139.8 178.8Z" fill="#fffaf0"/>
<path d="M840.8 461.5 L838.9 465.2 L839.9 474.5 L833.9 470.6 L828.2 473.8 L827.8 466.0 L821.2 461.5 L823.3 453.9 L828.3 449.5 L833.9 447.5 L838.8 450.9 L843.4 454.7Z" fill="#fffaf0"/>
<path d="M1102.4 483.2 L1103.5 486.9 L1101.9 491.3 L1097.2 488.8 L1092.3 491.8 L1088.8 488.1 L1090.4 483.2 L1091.5 479.9 L1093.7 477.1 L1097.2 476.5 L1102.4 474.2 L1103.0 479.9Z" fill="#fffaf0"/>
<path d="M1067.5 515.5 L1067.4 517.1 L1067.4 520.2 L1064.9 522.0 L1062.9 519.5 L1061.4 517.8 L1060.6 515.5 L1060.6 512.7 L1063.3 512.4 L1064.9 510.5 L1067.1 511.3 L1068.9 513.0Z" fill="#fffaf0"/>
<path d="M1253.1 444.9 L1252.7 446.4 L1251.6 447.5 L1250.1 447.9 L1248.6 447.5 L1247.5 446.4 L1247.1 444.9 L1247.5 443.4 L1248.6 442.3 L1250.1 441.9 L1251.6 442.3 L1252.7 443.4Z" fill="#fffaf0"/>
<path d="M931.2 74.7 L930.9 75.9 L930.0 76.8 L928.7 77.2 L927.5 76.8 L926.6 75.9 L926.2 74.7 L926.6 73.4 L927.5 72.5 L928.7 72.2 L930.0 72.5 L930.9 73.4Z" fill="#fffaf0"/>
<path d="M1273.2 332.9 L1272.8 333.9 L1271.7 334.6 L1270.2 334.9 L1268.7 334.6 L1267.6 333.9 L1267.2 332.9 L1267.6 331.9 L1268.7 331.2 L1270.2 330.9 L1271.7 331.2 L1272.8 331.9Z" fill="#fffaf0"/>
<path d="M1182.4 311.2 L1182.0 312.7 L1180.9 313.8 L1179.4 314.2 L1177.9 313.8 L1176.8 312.7 L1176.4 311.2 L1176.8 309.7 L1177.9 308.6 L1179.4 308.2 L1180.9 308.6 L1182.0 309.7Z" fill="#fffaf0"/>
<path d="M1189.0 229.5 L1188.6 230.8 L1187.5 231.7 L1186.0 232.0 L1184.5 231.7 L1183.4 230.8 L1183.0 229.5 L1183.4 228.3 L1184.5 227.3 L1186.0 227.0 L1187.5 227.3 L1188.6 228.3Z" fill="#fffaf0"/>
<path d="M1105.8 200.8 L1105.4 202.0 L1104.3 202.9 L1102.8 203.3 L1101.3 202.9 L1100.2 202.0 L1099.8 200.8 L1100.2 199.5 L1101.3 198.6 L1102.8 198.3 L1104.3 198.6 L1105.4 199.5Z" fill="#fffaf0"/>
<path d="M1004.4 234.6 L1003.8 236.1 L1002.4 237.2 L1000.4 237.6 L998.4 237.2 L996.9 236.1 L996.4 234.6 L996.9 233.1 L998.4 232.0 L1000.4 231.6 L1002.4 232.0 L1003.8 233.1Z" fill="#fffaf0"/>
<path d="M1323.7 575.0 L1323.3 576.5 L1322.2 577.6 L1320.7 578.0 L1319.2 577.6 L1318.1 576.5 L1317.7 575.0 L1318.1 573.5 L1319.2 572.4 L1320.7 572.0 L1322.2 572.4 L1323.3 573.5Z" fill="#fffaf0"/>
</g></g>
<line x1="798.6" y1="459" x2="1134" y2="488.3" stroke="#fbf6f2" stroke-width="1.8"/>
<rect x="797.5" y="13.8" width="62.3" height="63.5" fill="#fffefd"/>
<text x="830" y="65.5" font-size="60" text-anchor="middle" fill="#000" stroke="#000" stroke-width="1.7">b</text>
<rect x="896.2" y="113.5" width="273.6" height="220.4" fill="none" stroke="#f6f0e8" stroke-width="1.8"/>
<line x1="892.2" y1="113.0" x2="896.2" y2="113.0" stroke="#f6f0e8" stroke-width="1.6"/>
<text x="886.2" y="119.3" font-size="18" text-anchor="end" class="b" fill="#f8f3ec">2.5</text>
<line x1="892.2" y1="146.8" x2="896.2" y2="146.8" stroke="#f6f0e8" stroke-width="1.6"/>
<text x="886.2" y="153.1" font-size="18" text-anchor="end" class="b" fill="#f8f3ec">2.0</text>
<line x1="892.2" y1="180.6" x2="896.2" y2="180.6" stroke="#f6f0e8" stroke-width="1.6"/>
<text x="886.2" y="186.9" font-size="18" text-anchor="end" class="b" fill="#f8f3ec">1.5</text>
<line x1="892.2" y1="214.4" x2="896.2" y2="214.4" stroke="#f6f0e8" stroke-width="1.6"/>
<text x="886.2" y="220.7" font-size="18" text-anchor="end" class="b" fill="#f8f3ec">1.0</text>
<line x1="892.2" y1="248.2" x2="896.2" y2="248.2" stroke="#f6f0e8" stroke-width="1.6"/>
<text x="886.2" y="254.5" font-size="18" text-anchor="end" class="b" fill="#f8f3ec">0.5</text>
<line x1="892.2" y1="282.0" x2="896.2" y2="282.0" stroke="#f6f0e8" stroke-width="1.6"/>
<text x="886.2" y="288.3" font-size="18" text-anchor="end" class="b" fill="#f8f3ec">0.0</text>
<line x1="892.2" y1="315.8" x2="896.2" y2="315.8" stroke="#f6f0e8" stroke-width="1.6"/>
<text x="886.2" y="322.1" font-size="18" text-anchor="end" class="b" fill="#f8f3ec">-0.5</text>
<line x1="893.7" y1="129.9" x2="896.2" y2="129.9" stroke="#f6f0e8" stroke-width="1.2"/>
<line x1="893.7" y1="163.7" x2="896.2" y2="163.7" stroke="#f6f0e8" stroke-width="1.2"/>
<line x1="893.7" y1="197.5" x2="896.2" y2="197.5" stroke="#f6f0e8" stroke-width="1.2"/>
<line x1="893.7" y1="231.3" x2="896.2" y2="231.3" stroke="#f6f0e8" stroke-width="1.2"/>
<line x1="893.7" y1="265.1" x2="896.2" y2="265.1" stroke="#f6f0e8" stroke-width="1.2"/>
<line x1="893.7" y1="298.9" x2="896.2" y2="298.9" stroke="#f6f0e8" stroke-width="1.2"/>
<line x1="915.1" y1="333.9" x2="915.1" y2="337.9" stroke="#f6f0e8" stroke-width="1.6"/>
<text x="915.1" y="357.4" font-size="18" text-anchor="middle" class="b" fill="#f8f3ec">0</text>
<line x1="954.1" y1="333.9" x2="954.1" y2="337.9" stroke="#f6f0e8" stroke-width="1.6"/>
<text x="954.1" y="357.4" font-size="18" text-anchor="middle" class="b" fill="#f8f3ec">100</text>
<line x1="993.1" y1="333.9" x2="993.1" y2="337.9" stroke="#f6f0e8" stroke-width="1.6"/>
<text x="993.1" y="357.4" font-size="18" text-anchor="middle" class="b" fill="#f8f3ec">200</text>
<line x1="1032.0" y1="333.9" x2="1032.0" y2="337.9" stroke="#f6f0e8" stroke-width="1.6"/>
<text x="1032.0" y="357.4" font-size="18" text-anchor="middle" class="b" fill="#f8f3ec">300</text>
<line x1="1071.0" y1="333.9" x2="1071.0" y2="337.9" stroke="#f6f0e8" stroke-width="1.6"/>
<text x="1071.0" y="357.4" font-size="18" text-anchor="middle" class="b" fill="#f8f3ec">400</text>
<line x1="1110.0" y1="333.9" x2="1110.0" y2="337.9" stroke="#f6f0e8" stroke-width="1.6"/>
<text x="1110.0" y="357.4" font-size="18" text-anchor="middle" class="b" fill="#f8f3ec">500</text>
<line x1="1148.9" y1="333.9" x2="1148.9" y2="337.9" stroke="#f6f0e8" stroke-width="1.6"/>
<text x="1148.9" y="357.4" font-size="18" text-anchor="middle" class="b" fill="#f8f3ec">600</text>
<line x1="934.6" y1="333.9" x2="934.6" y2="336.4" stroke="#f6f0e8" stroke-width="1.2"/>
<line x1="973.6" y1="333.9" x2="973.6" y2="336.4" stroke="#f6f0e8" stroke-width="1.2"/>
<line x1="1012.5" y1="333.9" x2="1012.5" y2="336.4" stroke="#f6f0e8" stroke-width="1.2"/>
<line x1="1051.5" y1="333.9" x2="1051.5" y2="336.4" stroke="#f6f0e8" stroke-width="1.2"/>
<line x1="1090.5" y1="333.9" x2="1090.5" y2="336.4" stroke="#f6f0e8" stroke-width="1.2"/>
<line x1="1129.4" y1="333.9" x2="1129.4" y2="336.4" stroke="#f6f0e8" stroke-width="1.2"/>
<text x="1031.9" y="374.0" font-size="19" text-anchor="middle" class="b" fill="#f8f3ec">nm</text>
<text transform="translate(849.6 218.2) rotate(-90)" font-size="17" text-anchor="middle" class="b" fill="#f8f3ec">Height/nm</text>
<path d="M915.1 279.9 L916.6 292.6 L919.2 285.0 L922.2 290.0 L924.7 300.1 L927.2 287.5 L929.3 298.9 L931.0 277.4 L932.8 254.7 L934.8 234.6 L936.8 209.3 L939.3 194.2 L940.9 214.4 L942.4 227.0 L944.4 252.2 L946.4 272.4 L948.7 279.9 L949.9 284.9 L951.0 292.2 L951.8 287.3 L953.0 294.9 L953.7 287.3 L954.7 283.0 L956.0 283.7 L956.9 295.9 L957.9 277.0 L958.7 282.7 L959.4 286.0 L960.5 280.7 L961.7 295.5 L962.6 288.2 L963.3 269.7 L964.6 276.5 L965.4 294.6 L966.5 271.7 L967.3 275.3 L968.1 268.3 L969.1 277.1 L969.9 273.6 L970.6 269.1 L971.8 290.1 L972.8 271.8 L973.5 271.6 L974.4 269.8 L975.2 274.1 L975.9 287.4 L976.8 282.1 L977.7 284.0 L978.8 277.2 L979.5 282.3 L980.4 291.1 L981.1 293.8 L981.7 284.1 L982.6 277.4 L983.8 288.8 L984.5 282.7 L985.5 269.1 L986.2 285.9 L987.3 281.7 L988.2 283.1 L989.0 294.0 L990.3 282.3 L990.9 279.8 L992.0 277.7 L992.7 273.6 L993.8 286.5 L994.6 286.5 L995.7 296.6 L996.9 280.9 L998.0 295.4 L999.2 290.2 L1000.2 283.2 L1001.4 286.5 L1002.5 274.8 L1003.1 276.1 L1004.1 285.0 L1004.9 273.7 L1006.1 270.2 L1007.3 290.9 L1008.3 297.5 L1009.4 268.3 L1010.6 280.3 L1011.8 292.1 L1012.5 269.3 L1013.2 291.1 L1014.3 274.8 L1015.0 278.9 L1016.2 290.0 L1017.3 296.7 L1018.4 292.8 L1019.1 268.3 L1020.3 286.4 L1021.1 271.9 L1021.9 278.1 L1022.9 281.4 L1023.6 270.5 L1024.4 271.9 L1025.1 280.3 L1025.8 291.7 L1026.8 281.7 L1027.8 275.0 L1028.4 270.4 L1029.3 278.8 L1030.1 277.1 L1031.2 268.4 L1032.2 279.4 L1033.0 289.5 L1033.7 269.3 L1034.5 297.0 L1035.3 271.6 L1036.6 287.1 L1037.8 277.9 L1038.9 269.3 L1039.7 291.5 L1040.7 291.4 L1041.5 294.0 L1042.2 286.5 L1043.0 274.0 L1044.2 280.8 L1045.3 276.5 L1046.4 294.9 L1047.4 275.0 L1048.5 296.2 L1049.6 281.2 L1050.5 271.0 L1051.6 272.8 L1052.4 269.1 L1053.1 279.4 L1054.0 273.3 L1054.9 290.5 L1055.6 272.1 L1056.6 294.8 L1057.8 284.9 L1058.5 293.9 L1059.7 294.6 L1060.7 279.4 L1061.7 291.4 L1063.0 282.7 L1063.9 277.3 L1064.9 284.1 L1065.7 281.6 L1066.9 275.1 L1067.7 277.1 L1068.9 277.0 L1070.0 295.5 L1071.2 291.8 L1071.9 281.4 L1073.1 275.3 L1074.1 293.8 L1075.3 278.4 L1076.0 269.0 L1076.9 284.2 L1077.7 292.4 L1078.7 286.4 L1079.9 277.8 L1080.9 278.4 L1081.7 271.5 L1082.8 294.7 L1083.5 289.2 L1084.2 280.4 L1085.0 294.7 L1085.9 283.2 L1086.8 275.6 L1087.5 269.9 L1088.2 284.3 L1089.3 287.9 L1090.1 297.3 L1090.7 280.8 L1091.6 273.4 L1092.8 289.2 L1093.5 273.3 L1094.7 279.1 L1095.5 276.8 L1096.3 285.5 L1097.2 285.6 L1097.8 283.9 L1098.8 277.5 L1100.0 295.5 L1101.1 280.2 L1101.8 286.6 L1102.6 273.0 L1103.6 274.0 L1104.6 290.5 L1105.2 286.8 L1106.0 278.0 L1106.8 287.5 L1108.3 264.8 L1110.3 234.6 L1112.6 201.8 L1114.6 181.6 L1116.1 172.8 L1117.7 199.2 L1118.9 227.0 L1120.4 264.8 L1121.9 290.0 L1123.5 296.6 L1124.3 290.4 L1125.1 295.9 L1125.9 287.7 L1126.6 284.6 L1127.7 295.0 L1128.8 284.3 L1129.6 286.7 L1130.7 286.1 L1131.8 290.1 L1133.0 286.4 L1134.2 289.9 L1135.0 291.8 L1135.9 292.5 L1137.1 294.6 L1138.3 288.5 L1139.2 276.6 L1140.3 294.4 L1141.1 274.3 L1142.2 294.9 L1143.0 272.2 L1143.7 284.4 L1144.9 275.4 L1146.0 269.5 L1146.7 284.2 L1147.9 282.7" fill="none" stroke="#fbf7f2" stroke-width="1.6" stroke-linejoin="round"/>
<text x="806.5" y="635.6" font-size="33.5" fill="#111">Height</text>
<rect x="1260.4" y="602.5" width="119.8" height="5.5" fill="#000"/>
<text x="1320" y="636.5" font-size="34.2" text-anchor="middle" fill="#111">200.0 nm</text>
<rect x="1456.8" y="162.7" width="40" height="295.5" fill="#000"/>
<rect x="1459.8" y="165.7" width="34" height="292.5" fill="url(#cbar)"/>
<text x="1476" y="156.3" font-size="34.2" text-anchor="middle" fill="#111">712.0 pm</text>
<text x="1475.5" y="486.5" font-size="34.2" text-anchor="middle" fill="#111">-575.4 pm</text>
</g>
<g id="panel-c">
<rect x="25" y="739" width="768" height="510.8" fill="#787878"/>
<rect x="25" y="739" width="768" height="510.8" fill="#6d6d6d" filter="url(#nc)"/>
<clipPath id="clipc"><rect x="25" y="739" width="768" height="510.8"/></clipPath>
<rect x="25" y="739" width="768" height="510.8" fill="url(#cshade)"/>
<g clip-path="url(#clipc)">
<ellipse cx="50.4" cy="987.5" rx="33.0" ry="33.0" fill="url(#dk)" opacity="0.77"/>
<ellipse cx="156.4" cy="836.2" rx="24.0" ry="24.0" fill="url(#dk)" opacity="0.59"/>
<ellipse cx="285.0" cy="874.0" rx="33.0" ry="33.0" fill="url(#dk)" opacity="0.77"/>
<ellipse cx="403.5" cy="901.8" rx="68.9" ry="51.0" fill="url(#dk)" opacity="0.85"/>
<ellipse cx="317.8" cy="1032.9" rx="42.0" ry="42.0" fill="url(#dk)" opacity="0.85"/>
<ellipse cx="524.6" cy="1032.9" rx="37.5" ry="37.5" fill="url(#dk)" opacity="0.77"/>
<ellipse cx="617.9" cy="1012.7" rx="48.0" ry="48.0" fill="url(#dk)" opacity="0.85"/>
<ellipse cx="675.9" cy="952.2" rx="22.5" ry="22.5" fill="url(#dk)" opacity="0.68"/>
<ellipse cx="739.0" cy="939.6" rx="27.0" ry="27.0" fill="url(#dk)" opacity="0.68"/>
<ellipse cx="448.9" cy="1143.9" rx="37.5" ry="37.5" fill="url(#dk)" opacity="0.77"/>
<ellipse cx="549.8" cy="1133.8" rx="37.5" ry="37.5" fill="url(#dk)" opacity="0.77"/>
<ellipse cx="143.8" cy="1184.2" rx="37.5" ry="37.5" fill="url(#dk)" opacity="0.77"/>
<ellipse cx="317.8" cy="1186.8" rx="37.5" ry="37.5" fill="url(#dk)" opacity="0.68"/>
<ellipse cx="80.7" cy="1154.0" rx="18.0" ry="18.0" fill="url(#dk)" opacity="0.51"/>
<ellipse cx="191.7" cy="1118.7" rx="18.0" ry="18.0" fill="url(#dk)" opacity="0.51"/>
<ellipse cx="227.0" cy="816.0" rx="15.0" ry="15.0" fill="url(#dk)" opacity="0.51"/>
<ellipse cx="610.3" cy="831.1" rx="18.0" ry="18.0" fill="url(#dk)" opacity="0.42"/>
</g>
<rect x="24" y="737.5" width="54" height="55.4" fill="#ffffff"/>
<text x="51" y="781.3" font-size="59" text-anchor="middle" class="b" fill="#000">c</text>
<rect x="34.3" y="1236.3" width="142.4" height="4.8" fill="#ffffff" stroke="#222" stroke-opacity="0.5" stroke-width="0.8"/>
<text x="35.5" y="1228.8" font-size="21.5" textLength="65" lengthAdjust="spacingAndGlyphs" style="font-family:'DejaVu Sans','Liberation Sans',sans-serif" fill="#ffffff" stroke="#333" stroke-opacity="0.35" stroke-width="0.5" paint-order="stroke">10 nm</text>
</g>
<g id="panel-d">
<rect x="901.6" y="1064.2" width="85.3" height="192.1" fill="#f08327"/>
<rect x="1038.0" y="810.0" width="85.3" height="446.3" fill="#f08327"/>
<rect x="1174.5" y="1191.3" width="85.3" height="65.0" fill="#f08327"/>
<rect x="1447.3" y="1191.3" width="85.3" height="65.0" fill="#f08327"/>
<path d="M876.0 1106.7 L878.3 1103.2 L880.5 1099.6 L882.8 1096.0 L885.1 1092.3 L887.4 1088.6 L889.6 1084.9 L891.9 1081.1 L894.2 1077.3 L896.5 1073.5 L898.7 1069.6 L901.0 1065.6 L903.3 1061.7 L905.6 1057.7 L907.8 1053.7 L910.1 1049.6 L912.4 1045.6 L914.7 1041.5 L916.9 1037.3 L919.2 1033.2 L921.5 1029.0 L923.8 1024.8 L926.0 1020.6 L928.3 1016.4 L930.6 1012.2 L932.9 1007.9 L935.1 1003.6 L937.4 999.4 L939.7 995.1 L941.9 990.8 L944.2 986.5 L946.5 982.3 L948.8 978.0 L951.0 973.7 L953.3 969.4 L955.6 965.2 L957.9 960.9 L960.1 956.7 L962.4 952.5 L964.7 948.3 L967.0 944.1 L969.2 939.9 L971.5 935.8 L973.8 931.7 L976.1 927.6 L978.3 923.6 L980.6 919.6 L982.9 915.6 L985.2 911.7 L987.4 907.8 L989.7 904.0 L992.0 900.2 L994.2 896.4 L996.5 892.7 L998.8 889.1 L1001.1 885.5 L1003.3 882.0 L1005.6 878.5 L1007.9 875.1 L1010.2 871.8 L1012.4 868.6 L1014.7 865.4 L1017.0 862.3 L1019.3 859.2 L1021.5 856.2 L1023.8 853.4 L1026.1 850.6 L1028.4 847.8 L1030.6 845.2 L1032.9 842.7 L1035.2 840.2 L1037.5 837.8 L1039.7 835.6 L1042.0 833.4 L1044.3 831.3 L1046.5 829.3 L1048.8 827.4 L1051.1 825.7 L1053.4 824.0 L1055.6 822.4 L1057.9 820.9 L1060.2 819.5 L1062.5 818.3 L1064.7 817.1 L1067.0 816.1 L1069.3 815.1 L1071.6 814.3 L1073.8 813.5 L1076.1 812.9 L1078.4 812.4 L1080.7 812.0 L1082.9 811.8 L1085.2 811.6 L1087.5 811.5 L1089.8 811.6 L1092.0 811.8 L1094.3 812.0 L1096.6 812.4 L1098.9 812.9 L1101.1 813.5 L1103.4 814.3 L1105.7 815.1 L1107.9 816.1 L1110.2 817.1 L1112.5 818.3 L1114.8 819.5 L1117.0 820.9 L1119.3 822.4 L1121.6 824.0 L1123.9 825.7 L1126.1 827.4 L1128.4 829.3 L1130.7 831.3 L1133.0 833.4 L1135.2 835.6 L1137.5 837.8 L1139.8 840.2 L1142.1 842.7 L1144.3 845.2 L1146.6 847.8 L1148.9 850.6 L1151.2 853.4 L1153.4 856.2 L1155.7 859.2 L1158.0 862.3 L1160.2 865.4 L1162.5 868.6 L1164.8 871.8 L1167.1 875.1 L1169.3 878.5 L1171.6 882.0 L1173.9 885.5 L1176.2 889.1 L1178.4 892.7 L1180.7 896.4 L1183.0 900.2 L1185.3 904.0 L1187.5 907.8 L1189.8 911.7 L1192.1 915.6 L1194.4 919.6 L1196.6 923.6 L1198.9 927.6 L1201.2 931.7 L1203.5 935.8 L1205.7 939.9 L1208.0 944.1 L1210.3 948.3 L1212.6 952.5 L1214.8 956.7 L1217.1 960.9 L1219.4 965.2 L1221.6 969.4 L1223.9 973.7 L1226.2 978.0 L1228.5 982.3 L1230.7 986.5 L1233.0 990.8 L1235.3 995.1 L1237.6 999.4 L1239.8 1003.6 L1242.1 1007.9 L1244.4 1012.2 L1246.7 1016.4 L1248.9 1020.6 L1251.2 1024.8 L1253.5 1029.0 L1255.8 1033.2 L1258.0 1037.3 L1260.3 1041.5 L1262.6 1045.6 L1264.9 1049.6 L1267.1 1053.7 L1269.4 1057.7 L1271.7 1061.7 L1274.0 1065.6 L1276.2 1069.6 L1278.5 1073.5 L1280.8 1077.3 L1283.0 1081.1 L1285.3 1084.9 L1287.6 1088.6 L1289.9 1092.3 L1292.1 1096.0 L1294.4 1099.6 L1296.7 1103.2 L1299.0 1106.7 L1301.2 1110.2 L1303.5 1113.6 L1305.8 1117.0 L1308.1 1120.4 L1310.3 1123.7 L1312.6 1126.9 L1314.9 1130.1 L1317.2 1133.3 L1319.4 1136.4 L1321.7 1139.4 L1324.0 1142.4 L1326.3 1145.4 L1328.5 1148.3 L1330.8 1151.2 L1333.1 1154.0 L1335.3 1156.7 L1337.6 1159.4 L1339.9 1162.1 L1342.2 1164.7 L1344.4 1167.3 L1346.7 1169.8 L1349.0 1172.2 L1351.3 1174.7 L1353.5 1177.0 L1355.8 1179.3 L1358.1 1181.6 L1360.4 1183.8 L1362.6 1186.0 L1364.9 1188.1 L1367.2 1190.2 L1369.5 1192.2 L1371.7 1194.2 L1374.0 1196.1 L1376.3 1198.0 L1378.6 1199.8 L1380.8 1201.6 L1383.1 1203.4 L1385.4 1205.1 L1387.7 1206.8 L1389.9 1208.4 L1392.2 1210.0 L1394.5 1211.5 L1396.7 1213.0 L1399.0 1214.5 L1401.3 1215.9 L1403.6 1217.3 L1405.8 1218.6 L1408.1 1220.0 L1410.4 1221.2 L1412.7 1222.5 L1414.9 1223.7 L1417.2 1224.8 L1419.5 1226.0 L1421.8 1227.1 L1424.0 1228.1 L1426.3 1229.2 L1428.6 1230.2 L1430.9 1231.1 L1433.1 1232.1 L1435.4 1233.0 L1437.7 1233.9 L1440.0 1234.7 L1442.2 1235.6 L1444.5 1236.4 L1446.8 1237.1 L1449.0 1237.9 L1451.3 1238.6 L1453.6 1239.3 L1455.9 1240.0 L1458.1 1240.6 L1460.4 1241.3 L1462.7 1241.9 L1465.0 1242.5 L1467.2 1243.0 L1469.5 1243.6 L1471.8 1244.1 L1474.1 1244.6 L1476.3 1245.1 L1478.6 1245.6 L1480.9 1246.1 L1483.2 1246.5 L1485.4 1246.9 L1487.7 1247.3 L1490.0 1247.7 L1492.3 1248.1 L1494.5 1248.4 L1496.8 1248.8 L1499.1 1249.1 L1501.4 1249.4 L1503.6 1249.8 L1505.9 1250.1 L1508.2 1250.3 L1510.4 1250.6 L1512.7 1250.9 L1515.0 1251.1 L1517.3 1251.4 L1519.5 1251.6 L1521.8 1251.8 L1524.1 1252.0 L1526.4 1252.2 L1528.6 1252.4 L1530.9 1252.6 L1533.2 1252.8 L1535.5 1253.0 L1537.7 1253.1 L1540.0 1253.3 L1542.3 1253.4 L1544.6 1253.6 L1546.8 1253.7 L1549.1 1253.8 L1551.4 1253.9 L1553.7 1254.1 L1555.9 1254.2 L1558.2 1254.3" fill="none" stroke="#e01218" stroke-width="3"/>
<rect x="876.0" y="748.0" width="682.2" height="508.3" fill="none" stroke="#000" stroke-width="3.2"/>
<line x1="867.0" y1="1256.3" x2="876.0" y2="1256.3" stroke="#000" stroke-width="3"/>
<text x="859.0" y="1264.5" font-size="30.5" text-anchor="end" class="b" fill="#000">0</text>
<line x1="867.0" y1="1129.2" x2="876.0" y2="1129.2" stroke="#000" stroke-width="3"/>
<text x="859.0" y="1141.2" font-size="30.5" text-anchor="end" class="b" fill="#000">2</text>
<line x1="867.0" y1="1002.1" x2="876.0" y2="1002.1" stroke="#000" stroke-width="3"/>
<text x="859.0" y="1014.1" font-size="30.5" text-anchor="end" class="b" fill="#000">4</text>
<line x1="867.0" y1="875.1" x2="876.0" y2="875.1" stroke="#000" stroke-width="3"/>
<text x="859.0" y="887.1" font-size="30.5" text-anchor="end" class="b" fill="#000">6</text>
<line x1="867.0" y1="748.0" x2="876.0" y2="748.0" stroke="#000" stroke-width="3"/>
<text x="859.0" y="760.0" font-size="30.5" text-anchor="end" class="b" fill="#000">8</text>
<line x1="871.0" y1="1192.8" x2="876.0" y2="1192.8" stroke="#000" stroke-width="2.8"/>
<line x1="871.0" y1="1065.7" x2="876.0" y2="1065.7" stroke="#000" stroke-width="2.8"/>
<line x1="871.0" y1="938.6" x2="876.0" y2="938.6" stroke="#000" stroke-width="2.8"/>
<line x1="871.0" y1="811.5" x2="876.0" y2="811.5" stroke="#000" stroke-width="2.8"/>
<line x1="898.7" y1="1256.3" x2="898.7" y2="1265.3" stroke="#000" stroke-width="3"/>
<text x="898.7" y="1296.0" font-size="31" text-anchor="middle" class="b" fill="#000">2.5</text>
<line x1="1012.4" y1="1256.3" x2="1012.4" y2="1265.3" stroke="#000" stroke-width="3"/>
<text x="1012.4" y="1296.0" font-size="31" text-anchor="middle" class="b" fill="#000">3.0</text>
<line x1="1126.1" y1="1256.3" x2="1126.1" y2="1265.3" stroke="#000" stroke-width="3"/>
<text x="1126.1" y="1296.0" font-size="31" text-anchor="middle" class="b" fill="#000">3.5</text>
<line x1="1239.8" y1="1256.3" x2="1239.8" y2="1265.3" stroke="#000" stroke-width="3"/>
<text x="1239.8" y="1296.0" font-size="31" text-anchor="middle" class="b" fill="#000">4.0</text>
<line x1="1353.5" y1="1256.3" x2="1353.5" y2="1265.3" stroke="#000" stroke-width="3"/>
<text x="1353.5" y="1296.0" font-size="31" text-anchor="middle" class="b" fill="#000">4.5</text>
<line x1="1467.2" y1="1256.3" x2="1467.2" y2="1265.3" stroke="#000" stroke-width="3"/>
<text x="1467.2" y="1296.0" font-size="31" text-anchor="middle" class="b" fill="#000">5.0</text>
<line x1="955.6" y1="1256.3" x2="955.6" y2="1261.3" stroke="#000" stroke-width="2.8"/>
<line x1="1069.3" y1="1256.3" x2="1069.3" y2="1261.3" stroke="#000" stroke-width="2.8"/>
<line x1="1183.0" y1="1256.3" x2="1183.0" y2="1261.3" stroke="#000" stroke-width="2.8"/>
<line x1="1296.7" y1="1256.3" x2="1296.7" y2="1261.3" stroke="#000" stroke-width="2.8"/>
<line x1="1410.4" y1="1256.3" x2="1410.4" y2="1261.3" stroke="#000" stroke-width="2.8"/>
<line x1="1524.1" y1="1256.3" x2="1524.1" y2="1261.3" stroke="#000" stroke-width="2.8"/>
<text x="1217.3" y="1343" font-size="36.5" text-anchor="middle" class="b" fill="#000">Diameter(nm)</text>
<text transform="translate(830 1003) rotate(-90)" font-size="36.5" text-anchor="middle" class="b" fill="#000">Number of particles</text>
<text x="896.5" y="802" font-size="59" fill="#000" stroke="#000" stroke-width="1.7">d</text>
<text x="1220.8" y="846.3" font-size="36.5" class="b" fill="#000">d= 3.33±0.63 nm</text>
</g>
<g id="panel-e">
<path d="M73.3 1710.6 L74.3 1708.2 L75.3 1705.3 L76.3 1705.7 L77.3 1710.1 L78.3 1707.4 L79.3 1701.6 L80.3 1707.2 L81.3 1704.4 L82.3 1707.5 L83.3 1701.6 L84.3 1705.4 L85.3 1698.2 L86.3 1703.6 L87.3 1701.3 L88.3 1700.1 L89.3 1704.6 L90.3 1689.3 L91.3 1698.6 L92.3 1696.8 L93.3 1696.3 L94.3 1696.2 L95.3 1678.9 L96.3 1699.8 L97.3 1698.3 L98.3 1693.1 L99.3 1693.7 L100.3 1697.3 L101.3 1696.0 L102.3 1684.0 L103.3 1692.6 L104.3 1696.7 L105.3 1676.8 L106.3 1679.8 L107.3 1669.1 L108.3 1691.1 L109.3 1690.1 L110.3 1686.9 L111.3 1690.8 L112.3 1690.6 L113.3 1666.0 L114.3 1686.3 L115.3 1689.1 L116.3 1685.4 L117.3 1678.9 L118.3 1682.0 L119.3 1682.4 L120.3 1682.8 L121.3 1686.3 L122.3 1682.2 L123.3 1683.7 L124.3 1679.0 L125.3 1683.9 L126.3 1681.5 L127.3 1673.3 L128.3 1678.7 L129.3 1676.2 L130.3 1653.1 L131.3 1663.3 L132.3 1677.4 L133.3 1676.1 L134.3 1672.0 L135.3 1676.0 L136.3 1657.0 L137.3 1673.1 L138.3 1667.8 L139.3 1672.5 L140.3 1672.2 L141.3 1668.4 L142.3 1669.8 L143.3 1671.2 L144.3 1667.8 L145.3 1665.5 L146.3 1652.8 L147.3 1652.8 L148.3 1646.8 L149.3 1662.4 L150.3 1653.0 L151.3 1640.8 L152.3 1662.7 L153.3 1662.5 L154.3 1654.1 L155.3 1662.6 L156.3 1647.3 L157.3 1658.3 L158.3 1660.4 L159.3 1657.4 L160.3 1660.2 L161.3 1658.7 L162.3 1654.1 L163.3 1653.0 L164.3 1644.9 L165.3 1651.3 L166.3 1636.7 L167.3 1628.4 L168.3 1653.3 L169.3 1648.5 L170.3 1650.0 L171.3 1651.0 L172.3 1642.5 L173.3 1650.3 L174.3 1638.6 L175.3 1631.0 L176.3 1642.2 L177.3 1641.0 L178.3 1644.3 L179.3 1641.6 L180.3 1643.8 L181.3 1640.4 L182.3 1639.9 L183.3 1637.5 L184.3 1626.2 L185.3 1634.8 L186.3 1634.0 L187.3 1637.0 L188.3 1635.8 L189.3 1634.5 L190.3 1630.0 L191.3 1631.0 L192.3 1630.1 L193.3 1627.7 L194.3 1630.3 L195.3 1627.8 L196.3 1627.4 L197.3 1626.7 L198.3 1621.8 L199.3 1602.4 L200.3 1620.6 L201.3 1620.1 L202.3 1618.4 L203.3 1621.9 L204.3 1620.4 L205.3 1620.6 L206.3 1616.5 L207.3 1617.2 L208.3 1599.3 L209.3 1610.6 L210.3 1599.9 L211.3 1598.4 L212.3 1610.5 L213.3 1603.6 L214.3 1598.9 L215.3 1585.4 L216.3 1602.2 L217.3 1600.6 L218.3 1597.2 L219.3 1595.3 L220.3 1596.1 L221.3 1587.6 L222.3 1570.6 L223.3 1580.0 L224.3 1589.7 L225.3 1588.6 L226.3 1584.8 L227.3 1577.5 L228.3 1587.4 L229.3 1581.9 L230.3 1561.4 L231.3 1557.9 L232.3 1566.9 L233.3 1580.3 L234.3 1559.8 L235.3 1575.2 L236.3 1570.4 L237.3 1573.1 L238.3 1567.4 L239.3 1568.4 L240.3 1564.9 L241.3 1566.4 L242.3 1566.3 L243.3 1551.6 L244.3 1558.1 L245.3 1535.2 L246.3 1553.6 L247.3 1552.0 L248.3 1553.1 L249.3 1550.2 L250.3 1551.4 L251.3 1551.7 L252.3 1544.4 L253.3 1549.6 L254.3 1546.4 L255.3 1518.4 L256.3 1516.2 L257.3 1537.1 L258.3 1538.2 L259.3 1529.5 L260.3 1533.5 L261.3 1531.2 L262.3 1515.4 L263.3 1532.8 L264.3 1529.5 L265.3 1528.1 L266.3 1526.0 L267.3 1525.0 L268.3 1520.4 L269.3 1523.9 L270.3 1518.7 L271.3 1521.0 L272.3 1519.6 L273.3 1512.2 L274.3 1516.4 L275.3 1514.2 L276.3 1515.2 L277.3 1487.1 L278.3 1515.0 L279.3 1494.2 L280.3 1510.5 L281.3 1506.3 L282.3 1500.5 L283.3 1505.9 L284.3 1510.8 L285.3 1503.3 L286.3 1502.4 L287.3 1488.9 L288.3 1503.9 L289.3 1503.9 L290.3 1485.6 L291.3 1493.3 L292.3 1488.1 L293.3 1498.0 L294.3 1497.5 L295.3 1501.4 L296.3 1490.8 L297.3 1499.6 L298.3 1496.9 L299.3 1500.0 L300.3 1502.3 L301.3 1492.7 L302.3 1503.4 L303.3 1501.3 L304.3 1502.9 L305.3 1503.7 L306.3 1498.1 L307.3 1478.6 L308.3 1501.6 L309.3 1499.1 L310.3 1501.2 L311.3 1500.1 L312.3 1486.4 L313.3 1494.7 L314.3 1492.1 L315.3 1501.8 L316.3 1501.1 L317.3 1482.7 L318.3 1500.8 L319.3 1489.3 L320.3 1477.3 L321.3 1504.1 L322.3 1506.2 L323.3 1502.9 L324.3 1509.8 L325.3 1482.0 L326.3 1507.3 L327.3 1511.3 L328.3 1506.6 L329.3 1509.4 L330.3 1512.4 L331.3 1510.7 L332.3 1510.0 L333.3 1515.2 L334.3 1497.1 L335.3 1511.8 L336.3 1516.8 L337.3 1520.0 L338.3 1505.3 L339.3 1522.8 L340.3 1492.8 L341.3 1517.7 L342.3 1520.4 L343.3 1527.2 L344.3 1502.9 L345.3 1521.4 L346.3 1526.6 L347.3 1525.4 L348.3 1513.4 L349.3 1528.4 L350.3 1531.9 L351.3 1532.5 L352.3 1530.0 L353.3 1522.5 L354.3 1535.9 L355.3 1531.8 L356.3 1527.8 L357.3 1534.1 L358.3 1537.0 L359.3 1537.6 L360.3 1523.5 L361.3 1525.0 L362.3 1542.0 L363.3 1525.1 L364.3 1542.7 L365.3 1545.6 L366.3 1521.9 L367.3 1543.4 L368.3 1532.9 L369.3 1546.1 L370.3 1551.5 L371.3 1547.7 L372.3 1552.5 L373.3 1551.7 L374.3 1532.4 L375.3 1533.4 L376.3 1534.4 L377.3 1556.2 L378.3 1556.6 L379.3 1531.3 L380.3 1533.5 L381.3 1559.8 L382.3 1557.0 L383.3 1562.7 L384.3 1562.5 L385.3 1548.5 L386.3 1566.6 L387.3 1566.6 L388.3 1547.5 L389.3 1569.0 L390.3 1569.1 L391.3 1566.0 L392.3 1570.5 L393.3 1571.9 L394.3 1556.5 L395.3 1575.7 L396.3 1550.9 L397.3 1572.4 L398.3 1575.0 L399.3 1575.4 L400.3 1576.1 L401.3 1577.9 L402.3 1577.8 L403.3 1578.8 L404.3 1578.9 L405.3 1580.1 L406.3 1562.6 L407.3 1585.0 L408.3 1582.8 L409.3 1588.3 L410.3 1586.8 L411.3 1586.8 L412.3 1588.8 L413.3 1592.1 L414.3 1589.6 L415.3 1592.4 L416.3 1593.1 L417.3 1592.1 L418.3 1585.7 L419.3 1599.8 L420.3 1595.8 L421.3 1599.0 L422.3 1596.9 L423.3 1601.4 L424.3 1596.7 L425.3 1600.6 L426.3 1601.8 L427.3 1605.8 L428.3 1605.3 L429.3 1600.7 L430.3 1605.2 L431.3 1609.0 L432.3 1604.9 L433.3 1599.7 L434.3 1606.7 L435.3 1609.7 L436.3 1612.5 L437.3 1609.2 L438.3 1612.1 L439.3 1613.5 L440.3 1600.2 L441.3 1618.5 L442.3 1614.9 L443.3 1597.7 L444.3 1618.1 L445.3 1613.3 L446.3 1622.3 L447.3 1614.5 L448.3 1621.3 L449.3 1619.9 L450.3 1614.5 L451.3 1625.0 L452.3 1621.2 L453.3 1606.0 L454.3 1620.7 L455.3 1623.4 L456.3 1625.0 L457.3 1625.4 L458.3 1614.9 L459.3 1631.7 L460.3 1632.1 L461.3 1630.1 L462.3 1617.3 L463.3 1630.2 L464.3 1632.4 L465.3 1632.2 L466.3 1637.1 L467.3 1636.5 L468.3 1613.8 L469.3 1630.7 L470.3 1638.9 L471.3 1634.1 L472.3 1638.1 L473.3 1638.1 L474.3 1633.1 L475.3 1642.6 L476.3 1637.4 L477.3 1640.1 L478.3 1644.7 L479.3 1641.2 L480.3 1640.7 L481.3 1640.3 L482.3 1646.7 L483.3 1647.7 L484.3 1642.5 L485.3 1642.3 L486.3 1643.1 L487.3 1646.3 L488.3 1648.6 L489.3 1647.4 L490.3 1629.3 L491.3 1652.4 L492.3 1646.7 L493.3 1653.7 L494.3 1636.6 L495.3 1651.9 L496.3 1654.9 L497.3 1650.2 L498.3 1650.1 L499.3 1656.8 L500.3 1628.1 L501.3 1657.1 L502.3 1655.0 L503.3 1658.3 L504.3 1654.3 L505.3 1659.7 L506.3 1656.7 L507.3 1655.8 L508.3 1659.0 L509.3 1662.4 L510.3 1660.5 L511.3 1662.5 L512.3 1644.5 L513.3 1647.9 L514.3 1649.7 L515.3 1659.6 L516.3 1641.1 L517.3 1659.5 L518.3 1654.0 L519.3 1662.6 L520.3 1663.1 L521.3 1665.6 L522.3 1663.6 L523.3 1664.7 L524.3 1666.9 L525.3 1651.7 L526.3 1665.9 L527.3 1669.1 L528.3 1661.6 L529.3 1658.9 L530.3 1666.3 L531.3 1671.8 L532.3 1668.8 L533.3 1661.5 L534.3 1657.9 L535.3 1670.6 L536.3 1673.9 L537.3 1671.9 L538.3 1670.6 L539.3 1675.3 L540.3 1670.5 L541.3 1656.2 L542.3 1677.1 L543.3 1672.9 L544.3 1660.1 L545.3 1673.2 L546.3 1672.0 L547.3 1678.2 L548.3 1676.6 L549.3 1678.1 L550.3 1657.6 L551.3 1680.3 L552.3 1674.7 L553.3 1665.4 L554.3 1677.6 L555.3 1679.8 L556.3 1680.9 L557.3 1676.6 L558.3 1678.2 L559.3 1676.1 L560.3 1676.6 L561.3 1680.2 L562.3 1660.8 L563.3 1683.2 L564.3 1679.9 L565.3 1670.3 L566.3 1682.8 L567.3 1677.8 L568.3 1670.8 L569.3 1680.3 L570.3 1681.7 L571.3 1685.7 L572.3 1680.7 L573.3 1660.8 L574.3 1681.1 L575.3 1683.5 L576.3 1672.0 L577.3 1681.2 L578.3 1684.0 L579.3 1685.3 L580.3 1681.5 L581.3 1683.6 L582.3 1688.7 L583.3 1687.7 L584.3 1674.5 L585.3 1670.1 L586.3 1684.8 L587.3 1688.3 L588.3 1689.4 L589.3 1673.8 L590.3 1688.0 L591.3 1686.5 L592.3 1687.4 L593.3 1670.8 L594.3 1686.8 L595.3 1687.0 L596.3 1692.6 L597.3 1689.2 L598.3 1690.1 L599.3 1681.3 L600.3 1677.0 L601.3 1678.2 L602.3 1674.0 L603.3 1690.0 L604.3 1679.9 L605.3 1689.2 L606.3 1675.7 L607.3 1695.7 L608.3 1696.2 L609.3 1692.5 L610.3 1691.0 L611.3 1692.9 L612.3 1691.8 L613.3 1686.5 L614.3 1696.5 L615.3 1692.3 L616.3 1679.6 L617.3 1696.5 L618.3 1691.9 L619.3 1673.3 L620.3 1690.9 L621.3 1693.3 L622.3 1699.6 L623.3 1677.7 L624.3 1693.9 L625.3 1695.1 L626.3 1691.7 L627.3 1694.4 L628.3 1698.9 L629.3 1693.4 L630.3 1697.9 L631.3 1699.8 L632.3 1697.5 L633.3 1700.8 L634.3 1700.5 L635.3 1690.5 L636.3 1701.1 L637.3 1696.4 L638.3 1702.3 L639.3 1698.9 L640.3 1691.1 L641.3 1699.7 L642.3 1697.6 L643.3 1696.8 L644.3 1703.0 L645.3 1703.4 L646.3 1698.0 L647.3 1701.2 L648.3 1702.6 L649.3 1703.7 L650.3 1699.9 L651.3 1701.4 L652.3 1700.7 L653.3 1701.0 L654.3 1702.3 L655.3 1701.5 L656.3 1702.3 L657.3 1704.5 L658.3 1701.5 L659.3 1699.8 L660.3 1684.8 L661.3 1702.3 L662.3 1702.9 L663.3 1705.3 L664.3 1702.3 L665.3 1704.1 L666.3 1702.7 L667.3 1694.3 L668.3 1701.7 L669.3 1684.9 L670.3 1706.8 L671.3 1694.1 L672.3 1693.3 L673.3 1688.1 L674.3 1685.2 L675.3 1707.0 L676.3 1705.5 L677.3 1703.2 L678.3 1690.4 L679.3 1709.3 L680.3 1704.2 L681.3 1709.5 L682.3 1710.4 L683.3 1707.8 L684.3 1691.5 L685.3 1705.0 L686.3 1711.2 L687.3 1707.9 L688.3 1701.3 L689.3 1694.4 L690.3 1710.1 L691.3 1707.5 L692.3 1710.2 L693.3 1707.4 L694.3 1708.1 L695.3 1687.3 L696.3 1709.0 L697.3 1712.9 L698.3 1696.9 L699.3 1694.9 L700.3 1711.0 L701.3 1711.2 L702.3 1709.5 L703.3 1707.7 L704.3 1695.2 L705.3 1698.2 L706.3 1713.9 L707.3 1714.5 L708.3 1710.5 L709.3 1714.3 L710.3 1698.7 L711.3 1709.6 L712.3 1712.1 L713.3 1710.0 L714.3 1693.2 L715.3 1714.0 L716.3 1713.1 L717.3 1711.1 L718.3 1704.8 L719.3 1714.8 L720.3 1715.9 L721.3 1714.6 L722.3 1706.6 L723.3 1715.9 L724.3 1711.6 L725.3 1712.3 L726.3 1716.8 L727.3 1694.6 L728.3 1708.3 L729.3 1711.8 L730.3 1693.5 L731.3 1713.9 L732.3 1712.5 L733.3 1716.5 L734.3 1714.0 L735.3 1713.5 L736.3 1717.4 L737.3 1718.3 L738.3 1714.0 L739.3 1715.9 L740.3 1716.7 L741.3 1707.5 L742.3 1720.0 L743.3 1718.4 L744.3 1718.7 L745.3 1700.3 L746.3 1719.9 L747.3 1696.5 L748.3 1714.7 L749.3 1718.6 L750.3 1713.1 L751.3 1716.5 L752.3 1720.7 L753.3 1717.9 L754.3 1721.8 L755.3 1717.9 L756.3 1715.7 L757.3 1704.1 L758.3 1698.0 L759.3 1719.5 L760.3 1715.8 L761.3 1717.9 L762.3 1721.0 L763.3 1714.9 L764.3 1718.6 L764.3 1739.9 L763.3 1746.1 L762.3 1740.9 L761.3 1744.9 L760.3 1757.4 L759.3 1739.4 L758.3 1744.0 L757.3 1742.0 L756.3 1740.7 L755.3 1740.9 L754.3 1740.9 L753.3 1743.1 L752.3 1743.4 L751.3 1741.3 L750.3 1737.8 L749.3 1738.3 L748.3 1739.5 L747.3 1753.0 L746.3 1739.7 L745.3 1738.7 L744.3 1738.8 L743.3 1737.5 L742.3 1752.4 L741.3 1740.7 L740.3 1738.9 L739.3 1741.6 L738.3 1741.9 L737.3 1740.7 L736.3 1735.7 L735.3 1736.9 L734.3 1754.3 L733.3 1739.0 L732.3 1737.2 L731.3 1757.9 L730.3 1754.0 L729.3 1738.4 L728.3 1738.1 L727.3 1735.2 L726.3 1738.4 L725.3 1739.2 L724.3 1756.8 L723.3 1742.4 L722.3 1734.1 L721.3 1734.1 L720.3 1752.6 L719.3 1755.3 L718.3 1737.5 L717.3 1736.0 L716.3 1747.1 L715.3 1738.5 L714.3 1738.9 L713.3 1738.5 L712.3 1737.2 L711.3 1732.8 L710.3 1737.0 L709.3 1737.0 L708.3 1731.5 L707.3 1732.4 L706.3 1737.2 L705.3 1730.8 L704.3 1741.5 L703.3 1733.1 L702.3 1733.7 L701.3 1736.7 L700.3 1739.9 L699.3 1736.4 L698.3 1735.2 L697.3 1735.7 L696.3 1734.4 L695.3 1735.8 L694.3 1733.4 L693.3 1729.2 L692.3 1734.6 L691.3 1731.5 L690.3 1733.5 L689.3 1732.8 L688.3 1746.3 L687.3 1729.7 L686.3 1729.6 L685.3 1731.4 L684.3 1733.4 L683.3 1731.1 L682.3 1747.2 L681.3 1729.5 L680.3 1749.9 L679.3 1741.2 L678.3 1732.8 L677.3 1726.6 L676.3 1727.8 L675.3 1728.7 L674.3 1728.2 L673.3 1729.4 L672.3 1725.6 L671.3 1726.2 L670.3 1728.3 L669.3 1730.6 L668.3 1729.3 L667.3 1728.1 L666.3 1726.1 L665.3 1748.9 L664.3 1724.9 L663.3 1744.0 L662.3 1728.3 L661.3 1729.8 L660.3 1747.7 L659.3 1724.6 L658.3 1722.9 L657.3 1729.1 L656.3 1745.6 L655.3 1735.2 L654.3 1726.5 L653.3 1727.1 L652.3 1731.2 L651.3 1723.4 L650.3 1724.6 L649.3 1722.2 L648.3 1724.9 L647.3 1724.2 L646.3 1724.8 L645.3 1739.9 L644.3 1724.8 L643.3 1723.8 L642.3 1722.8 L641.3 1722.1 L640.3 1725.4 L639.3 1724.8 L638.3 1741.0 L637.3 1719.0 L636.3 1737.7 L635.3 1722.4 L634.3 1723.2 L633.3 1722.0 L632.3 1738.7 L631.3 1720.5 L630.3 1730.7 L629.3 1721.1 L628.3 1719.1 L627.3 1717.9 L626.3 1726.4 L625.3 1723.4 L624.3 1720.8 L623.3 1722.7 L622.3 1723.2 L621.3 1718.4 L620.3 1717.1 L619.3 1719.4 L618.3 1729.9 L617.3 1716.7 L616.3 1715.2 L615.3 1719.0 L614.3 1715.7 L613.3 1725.3 L612.3 1726.9 L611.3 1718.6 L610.3 1715.3 L609.3 1733.0 L608.3 1715.2 L607.3 1718.7 L606.3 1715.4 L605.3 1716.4 L604.3 1735.6 L603.3 1732.7 L602.3 1717.8 L601.3 1716.7 L600.3 1730.8 L599.3 1711.8 L598.3 1713.4 L597.3 1714.3 L596.3 1719.5 L595.3 1714.5 L594.3 1710.3 L593.3 1711.7 L592.3 1715.7 L591.3 1708.6 L590.3 1709.0 L589.3 1709.5 L588.3 1714.2 L587.3 1713.7 L586.3 1710.1 L585.3 1726.5 L584.3 1723.5 L583.3 1726.2 L582.3 1708.4 L581.3 1711.1 L580.3 1719.1 L579.3 1709.4 L578.3 1709.3 L577.3 1724.6 L576.3 1714.5 L575.3 1704.9 L574.3 1706.8 L573.3 1705.6 L572.3 1705.0 L571.3 1703.9 L570.3 1705.9 L569.3 1706.9 L568.3 1706.1 L567.3 1705.5 L566.3 1708.4 L565.3 1705.3 L564.3 1704.9 L563.3 1711.0 L562.3 1715.6 L561.3 1700.5 L560.3 1703.4 L559.3 1704.0 L558.3 1699.9 L557.3 1705.7 L556.3 1702.2 L555.3 1703.2 L554.3 1702.1 L553.3 1701.9 L552.3 1702.3 L551.3 1700.2 L550.3 1700.9 L549.3 1696.8 L548.3 1700.4 L547.3 1698.7 L546.3 1699.4 L545.3 1712.3 L544.3 1700.8 L543.3 1711.9 L542.3 1697.8 L541.3 1696.7 L540.3 1694.5 L539.3 1695.1 L538.3 1706.0 L537.3 1696.8 L536.3 1715.2 L535.3 1696.9 L534.3 1696.9 L533.3 1694.0 L532.3 1692.8 L531.3 1690.8 L530.3 1694.2 L529.3 1694.2 L528.3 1695.1 L527.3 1692.8 L526.3 1690.5 L525.3 1691.9 L524.3 1695.5 L523.3 1689.1 L522.3 1693.1 L521.3 1689.7 L520.3 1686.7 L519.3 1687.1 L518.3 1686.4 L517.3 1693.2 L516.3 1698.0 L515.3 1691.5 L514.3 1686.0 L513.3 1682.7 L512.3 1688.0 L511.3 1686.4 L510.3 1700.4 L509.3 1681.3 L508.3 1680.7 L507.3 1688.1 L506.3 1681.4 L505.3 1680.5 L504.3 1679.3 L503.3 1681.1 L502.3 1679.2 L501.3 1682.1 L500.3 1676.0 L499.3 1679.2 L498.3 1677.5 L497.3 1680.2 L496.3 1688.4 L495.3 1677.2 L494.3 1675.9 L493.3 1675.1 L492.3 1676.3 L491.3 1673.6 L490.3 1693.4 L489.3 1675.1 L488.3 1670.8 L487.3 1671.8 L486.3 1668.7 L485.3 1678.6 L484.3 1667.7 L483.3 1666.6 L482.3 1665.2 L481.3 1668.2 L480.3 1667.6 L479.3 1666.9 L478.3 1665.8 L477.3 1667.7 L476.3 1669.7 L475.3 1663.1 L474.3 1660.9 L473.3 1666.7 L472.3 1665.0 L471.3 1662.0 L470.3 1659.2 L469.3 1657.6 L468.3 1658.9 L467.3 1657.4 L466.3 1657.0 L465.3 1681.3 L464.3 1660.0 L463.3 1654.5 L462.3 1652.9 L461.3 1658.1 L460.3 1657.2 L459.3 1666.1 L458.3 1654.8 L457.3 1665.7 L456.3 1651.0 L455.3 1651.4 L454.3 1651.2 L453.3 1649.2 L452.3 1650.2 L451.3 1646.1 L450.3 1646.8 L449.3 1644.0 L448.3 1653.0 L447.3 1641.9 L446.3 1666.4 L445.3 1645.7 L444.3 1646.1 L443.3 1653.4 L442.3 1650.8 L441.3 1637.0 L440.3 1636.1 L439.3 1636.2 L438.3 1637.2 L437.3 1639.2 L436.3 1633.5 L435.3 1634.4 L434.3 1635.0 L433.3 1635.3 L432.3 1629.5 L431.3 1629.8 L430.3 1641.9 L429.3 1633.4 L428.3 1628.3 L427.3 1631.0 L426.3 1626.2 L425.3 1624.6 L424.3 1653.0 L423.3 1622.0 L422.3 1621.1 L421.3 1623.4 L420.3 1626.2 L419.3 1632.6 L418.3 1622.1 L417.3 1621.7 L416.3 1622.2 L415.3 1618.6 L414.3 1621.1 L413.3 1613.7 L412.3 1619.4 L411.3 1611.5 L410.3 1612.6 L409.3 1616.9 L408.3 1612.6 L407.3 1627.7 L406.3 1620.0 L405.3 1608.4 L404.3 1610.7 L403.3 1610.0 L402.3 1603.4 L401.3 1602.3 L400.3 1602.2 L399.3 1600.8 L398.3 1601.6 L397.3 1615.7 L396.3 1600.0 L395.3 1603.8 L394.3 1595.7 L393.3 1600.7 L392.3 1600.3 L391.3 1598.7 L390.3 1596.4 L389.3 1594.8 L388.3 1594.0 L387.3 1596.2 L386.3 1594.2 L385.3 1589.0 L384.3 1592.6 L383.3 1591.6 L382.3 1589.7 L381.3 1590.2 L380.3 1584.0 L379.3 1586.6 L378.3 1581.1 L377.3 1598.8 L376.3 1595.2 L375.3 1576.9 L374.3 1591.8 L373.3 1581.3 L372.3 1578.7 L371.3 1575.7 L370.3 1582.4 L369.3 1577.2 L368.3 1594.7 L367.3 1598.0 L366.3 1569.9 L365.3 1573.4 L364.3 1578.5 L363.3 1571.7 L362.3 1566.4 L361.3 1574.1 L360.3 1568.5 L359.3 1581.7 L358.3 1562.1 L357.3 1560.6 L356.3 1571.7 L355.3 1563.9 L354.3 1577.8 L353.3 1559.2 L352.3 1557.5 L351.3 1557.4 L350.3 1553.3 L349.3 1557.4 L348.3 1557.6 L347.3 1555.9 L346.3 1555.8 L345.3 1550.0 L344.3 1550.4 L343.3 1553.2 L342.3 1553.1 L341.3 1545.0 L340.3 1546.2 L339.3 1544.5 L338.3 1549.5 L337.3 1544.7 L336.3 1544.1 L335.3 1544.6 L334.3 1553.9 L333.3 1566.7 L332.3 1538.2 L331.3 1558.7 L330.3 1537.6 L329.3 1553.8 L328.3 1536.3 L327.3 1557.9 L326.3 1560.0 L325.3 1534.5 L324.3 1540.3 L323.3 1545.9 L322.3 1536.0 L321.3 1532.3 L320.3 1533.5 L319.3 1549.1 L318.3 1552.5 L317.3 1556.5 L316.3 1526.7 L315.3 1530.5 L314.3 1528.9 L313.3 1529.6 L312.3 1534.9 L311.3 1528.9 L310.3 1529.9 L309.3 1531.1 L308.3 1531.9 L307.3 1542.8 L306.3 1524.3 L305.3 1532.9 L304.3 1526.0 L303.3 1537.6 L302.3 1525.9 L301.3 1524.1 L300.3 1525.7 L299.3 1530.0 L298.3 1529.5 L297.3 1531.3 L296.3 1529.3 L295.3 1551.0 L294.3 1531.0 L293.3 1540.9 L292.3 1527.1 L291.3 1533.4 L290.3 1535.0 L289.3 1527.7 L288.3 1529.9 L287.3 1536.9 L286.3 1531.2 L285.3 1541.5 L284.3 1547.7 L283.3 1539.1 L282.3 1533.9 L281.3 1534.7 L280.3 1539.0 L279.3 1542.4 L278.3 1540.6 L277.3 1539.1 L276.3 1544.5 L275.3 1545.3 L274.3 1556.4 L273.3 1542.0 L272.3 1554.9 L271.3 1550.6 L270.3 1552.8 L269.3 1554.1 L268.3 1553.7 L267.3 1569.9 L266.3 1552.9 L265.3 1558.4 L264.3 1557.8 L263.3 1561.7 L262.3 1560.6 L261.3 1585.5 L260.3 1563.0 L259.3 1568.2 L258.3 1569.2 L257.3 1570.2 L256.3 1570.2 L255.3 1580.5 L254.3 1574.4 L253.3 1572.6 L252.3 1572.0 L251.3 1573.2 L250.3 1577.2 L249.3 1577.9 L248.3 1584.3 L247.3 1598.4 L246.3 1586.8 L245.3 1583.7 L244.3 1609.4 L243.3 1586.7 L242.3 1608.8 L241.3 1588.7 L240.3 1593.1 L239.3 1598.2 L238.3 1615.7 L237.3 1598.0 L236.3 1601.8 L235.3 1622.0 L234.3 1603.1 L233.3 1602.8 L232.3 1608.8 L231.3 1603.3 L230.3 1611.7 L229.3 1611.5 L228.3 1614.0 L227.3 1612.8 L226.3 1614.8 L225.3 1620.5 L224.3 1619.6 L223.3 1615.3 L222.3 1623.0 L221.3 1620.4 L220.3 1625.8 L219.3 1623.4 L218.3 1624.2 L217.3 1649.2 L216.3 1626.2 L215.3 1627.3 L214.3 1632.6 L213.3 1633.4 L212.3 1630.4 L211.3 1632.8 L210.3 1634.9 L209.3 1653.7 L208.3 1642.9 L207.3 1643.5 L206.3 1658.1 L205.3 1645.4 L204.3 1647.0 L203.3 1646.8 L202.3 1657.4 L201.3 1644.5 L200.3 1648.2 L199.3 1648.8 L198.3 1651.5 L197.3 1662.0 L196.3 1648.8 L195.3 1650.6 L194.3 1652.5 L193.3 1657.0 L192.3 1657.0 L191.3 1658.0 L190.3 1659.6 L189.3 1661.3 L188.3 1656.0 L187.3 1658.0 L186.3 1660.5 L185.3 1662.0 L184.3 1659.2 L183.3 1663.5 L182.3 1662.9 L181.3 1674.3 L180.3 1665.9 L179.3 1670.0 L178.3 1681.9 L177.3 1670.1 L176.3 1672.3 L175.3 1670.4 L174.3 1672.9 L173.3 1683.5 L172.3 1669.4 L171.3 1689.6 L170.3 1683.3 L169.3 1674.0 L168.3 1677.1 L167.3 1676.9 L166.3 1699.3 L165.3 1674.3 L164.3 1691.8 L163.3 1679.7 L162.3 1682.3 L161.3 1682.5 L160.3 1678.3 L159.3 1699.7 L158.3 1692.2 L157.3 1683.2 L156.3 1682.5 L155.3 1687.4 L154.3 1689.1 L153.3 1685.4 L152.3 1687.5 L151.3 1686.2 L150.3 1706.1 L149.3 1691.5 L148.3 1699.9 L147.3 1689.5 L146.3 1694.5 L145.3 1689.7 L144.3 1691.3 L143.3 1692.1 L142.3 1695.1 L141.3 1697.5 L140.3 1694.0 L139.3 1697.1 L138.3 1694.9 L137.3 1710.8 L136.3 1695.3 L135.3 1695.5 L134.3 1697.8 L133.3 1697.3 L132.3 1709.3 L131.3 1719.1 L130.3 1698.5 L129.3 1701.5 L128.3 1723.4 L127.3 1701.6 L126.3 1704.9 L125.3 1707.2 L124.3 1703.7 L123.3 1708.5 L122.3 1708.9 L121.3 1721.7 L120.3 1723.7 L119.3 1711.3 L118.3 1725.8 L117.3 1712.3 L116.3 1708.7 L115.3 1714.2 L114.3 1711.3 L113.3 1712.3 L112.3 1727.2 L111.3 1716.0 L110.3 1716.1 L109.3 1719.5 L108.3 1712.8 L107.3 1715.5 L106.3 1728.0 L105.3 1716.4 L104.3 1718.5 L103.3 1717.1 L102.3 1721.0 L101.3 1720.2 L100.3 1721.7 L99.3 1721.6 L98.3 1716.9 L97.3 1720.8 L96.3 1721.1 L95.3 1721.1 L94.3 1723.8 L93.3 1719.3 L92.3 1735.6 L91.3 1735.1 L90.3 1723.5 L89.3 1721.6 L88.3 1725.3 L87.3 1724.9 L86.3 1724.0 L85.3 1727.3 L84.3 1727.8 L83.3 1727.1 L82.3 1726.9 L81.3 1726.4 L80.3 1725.7 L79.3 1739.2 L78.3 1732.6 L77.3 1726.8 L76.3 1728.5 L75.3 1739.8 L74.3 1732.6 L73.3 1744.3Z" fill="#f03c3e" stroke="#f03c3e" stroke-width="0.9" stroke-linejoin="bevel"/>
<path d="M73.3 1857.4 L74.3 1859.1 L75.3 1854.0 L76.3 1858.7 L77.3 1859.3 L78.3 1860.0 L79.3 1854.5 L80.3 1845.1 L81.3 1857.2 L82.3 1858.5 L83.3 1856.6 L84.3 1855.4 L85.3 1855.2 L86.3 1854.7 L87.3 1855.2 L88.3 1856.5 L89.3 1855.2 L90.3 1856.1 L91.3 1856.3 L92.3 1847.1 L93.3 1852.0 L94.3 1854.3 L95.3 1851.9 L96.3 1844.9 L97.3 1841.9 L98.3 1853.1 L99.3 1846.4 L100.3 1849.7 L101.3 1848.8 L102.3 1850.8 L103.3 1851.2 L104.3 1843.0 L105.3 1850.1 L106.3 1850.1 L107.3 1840.4 L108.3 1847.0 L109.3 1841.8 L110.3 1844.9 L111.3 1846.5 L112.3 1844.0 L113.3 1845.2 L114.3 1846.5 L115.3 1844.7 L116.3 1844.9 L117.3 1836.7 L118.3 1843.6 L119.3 1834.0 L120.3 1843.2 L121.3 1833.0 L122.3 1831.4 L123.3 1840.6 L124.3 1839.8 L125.3 1838.7 L126.3 1841.2 L127.3 1839.1 L128.3 1841.3 L129.3 1841.0 L130.3 1835.0 L131.3 1837.4 L132.3 1829.1 L133.3 1838.4 L134.3 1837.3 L135.3 1830.3 L136.3 1837.4 L137.3 1834.6 L138.3 1833.0 L139.3 1825.4 L140.3 1833.4 L141.3 1832.7 L142.3 1835.2 L143.3 1820.2 L144.3 1833.4 L145.3 1833.2 L146.3 1831.3 L147.3 1830.7 L148.3 1830.1 L149.3 1831.6 L150.3 1827.8 L151.3 1821.9 L152.3 1828.8 L153.3 1828.0 L154.3 1825.2 L155.3 1815.3 L156.3 1825.1 L157.3 1823.6 L158.3 1824.4 L159.3 1824.8 L160.3 1821.4 L161.3 1817.5 L162.3 1823.2 L163.3 1821.1 L164.3 1822.5 L165.3 1819.3 L166.3 1820.5 L167.3 1817.6 L168.3 1817.8 L169.3 1808.9 L170.3 1805.6 L171.3 1804.4 L172.3 1817.1 L173.3 1814.6 L174.3 1815.7 L175.3 1809.9 L176.3 1811.8 L177.3 1813.9 L178.3 1811.0 L179.3 1810.4 L180.3 1811.7 L181.3 1810.0 L182.3 1809.4 L183.3 1807.6 L184.3 1810.5 L185.3 1802.8 L186.3 1809.2 L187.3 1805.5 L188.3 1801.1 L189.3 1803.7 L190.3 1802.6 L191.3 1803.4 L192.3 1804.6 L193.3 1800.1 L194.3 1788.1 L195.3 1795.7 L196.3 1799.9 L197.3 1798.7 L198.3 1799.0 L199.3 1796.5 L200.3 1795.6 L201.3 1795.6 L202.3 1790.5 L203.3 1793.7 L204.3 1788.4 L205.3 1791.3 L206.3 1791.7 L207.3 1789.7 L208.3 1790.9 L209.3 1778.0 L210.3 1786.5 L211.3 1780.5 L212.3 1777.3 L213.3 1786.2 L214.3 1771.6 L215.3 1781.2 L216.3 1783.1 L217.3 1773.4 L218.3 1771.3 L219.3 1778.1 L220.3 1779.3 L221.3 1778.0 L222.3 1771.7 L223.3 1776.2 L224.3 1771.1 L225.3 1773.5 L226.3 1772.9 L227.3 1763.2 L228.3 1767.3 L229.3 1768.7 L230.3 1767.0 L231.3 1762.7 L232.3 1763.8 L233.3 1762.3 L234.3 1747.9 L235.3 1757.4 L236.3 1753.4 L237.3 1759.2 L238.3 1753.7 L239.3 1754.4 L240.3 1752.3 L241.3 1748.9 L242.3 1748.1 L243.3 1750.5 L244.3 1747.1 L245.3 1745.6 L246.3 1744.5 L247.3 1742.8 L248.3 1731.5 L249.3 1742.3 L250.3 1738.2 L251.3 1726.7 L252.3 1729.7 L253.3 1731.8 L254.3 1733.9 L255.3 1731.4 L256.3 1730.0 L257.3 1728.3 L258.3 1724.6 L259.3 1725.6 L260.3 1723.4 L261.3 1711.5 L262.3 1721.6 L263.3 1720.2 L264.3 1717.7 L265.3 1709.5 L266.3 1716.3 L267.3 1715.1 L268.3 1710.6 L269.3 1710.5 L270.3 1708.3 L271.3 1708.6 L272.3 1706.0 L273.3 1707.4 L274.3 1690.7 L275.3 1692.4 L276.3 1702.5 L277.3 1691.6 L278.3 1698.3 L279.3 1686.2 L280.3 1685.1 L281.3 1681.8 L282.3 1693.3 L283.3 1694.1 L284.3 1678.0 L285.3 1693.5 L286.3 1687.9 L287.3 1688.6 L288.3 1688.1 L289.3 1686.9 L290.3 1685.2 L291.3 1685.9 L292.3 1682.3 L293.3 1680.0 L294.3 1668.4 L295.3 1676.6 L296.3 1663.4 L297.3 1677.0 L298.3 1677.7 L299.3 1677.3 L300.3 1677.2 L301.3 1675.4 L302.3 1661.1 L303.3 1674.7 L304.3 1672.1 L305.3 1666.7 L306.3 1662.0 L307.3 1671.5 L308.3 1666.1 L309.3 1669.1 L310.3 1654.1 L311.3 1664.2 L312.3 1666.7 L313.3 1666.3 L314.3 1658.5 L315.3 1664.6 L316.3 1649.7 L317.3 1660.9 L318.3 1662.6 L319.3 1661.5 L320.3 1661.6 L321.3 1662.0 L322.3 1660.6 L323.3 1661.2 L324.3 1661.8 L325.3 1663.3 L326.3 1659.8 L327.3 1662.8 L328.3 1663.3 L329.3 1661.8 L330.3 1661.8 L331.3 1653.2 L332.3 1661.8 L333.3 1663.8 L334.3 1660.0 L335.3 1660.8 L336.3 1659.9 L337.3 1663.3 L338.3 1660.2 L339.3 1648.2 L340.3 1657.5 L341.3 1664.8 L342.3 1666.4 L343.3 1665.5 L344.3 1655.9 L345.3 1666.6 L346.3 1665.3 L347.3 1664.2 L348.3 1666.7 L349.3 1667.6 L350.3 1671.1 L351.3 1671.7 L352.3 1672.3 L353.3 1671.7 L354.3 1674.1 L355.3 1674.0 L356.3 1659.1 L357.3 1677.0 L358.3 1673.7 L359.3 1664.0 L360.3 1677.9 L361.3 1677.9 L362.3 1672.9 L363.3 1681.7 L364.3 1680.3 L365.3 1684.9 L366.3 1685.3 L367.3 1687.2 L368.3 1686.8 L369.3 1688.5 L370.3 1689.8 L371.3 1689.7 L372.3 1681.4 L373.3 1682.4 L374.3 1691.9 L375.3 1697.2 L376.3 1697.9 L377.3 1687.3 L378.3 1686.2 L379.3 1701.2 L380.3 1699.8 L381.3 1694.2 L382.3 1704.2 L383.3 1705.3 L384.3 1708.7 L385.3 1707.3 L386.3 1710.0 L387.3 1709.8 L388.3 1702.4 L389.3 1711.9 L390.3 1715.7 L391.3 1714.9 L392.3 1713.7 L393.3 1718.7 L394.3 1705.3 L395.3 1719.0 L396.3 1709.7 L397.3 1714.3 L398.3 1725.6 L399.3 1725.5 L400.3 1724.2 L401.3 1725.5 L402.3 1727.4 L403.3 1729.4 L404.3 1722.7 L405.3 1729.3 L406.3 1734.2 L407.3 1730.9 L408.3 1734.9 L409.3 1733.9 L410.3 1734.1 L411.3 1732.1 L412.3 1737.1 L413.3 1731.9 L414.3 1740.1 L415.3 1733.8 L416.3 1739.2 L417.3 1726.9 L418.3 1743.4 L419.3 1739.4 L420.3 1740.5 L421.3 1742.5 L422.3 1747.3 L423.3 1740.5 L424.3 1746.9 L425.3 1739.4 L426.3 1749.8 L427.3 1741.0 L428.3 1749.0 L429.3 1749.8 L430.3 1751.1 L431.3 1751.4 L432.3 1746.8 L433.3 1751.9 L434.3 1754.5 L435.3 1754.3 L436.3 1755.8 L437.3 1755.7 L438.3 1757.2 L439.3 1760.0 L440.3 1760.1 L441.3 1761.9 L442.3 1760.4 L443.3 1763.4 L444.3 1755.4 L445.3 1759.6 L446.3 1759.6 L447.3 1763.4 L448.3 1768.5 L449.3 1767.0 L450.3 1768.8 L451.3 1768.2 L452.3 1768.8 L453.3 1770.3 L454.3 1771.8 L455.3 1757.9 L456.3 1775.3 L457.3 1775.5 L458.3 1774.4 L459.3 1771.2 L460.3 1775.0 L461.3 1778.2 L462.3 1778.0 L463.3 1778.4 L464.3 1779.3 L465.3 1768.4 L466.3 1773.4 L467.3 1782.2 L468.3 1781.5 L469.3 1772.5 L470.3 1785.1 L471.3 1784.7 L472.3 1785.5 L473.3 1783.1 L474.3 1781.4 L475.3 1788.2 L476.3 1788.5 L477.3 1789.4 L478.3 1788.5 L479.3 1789.1 L480.3 1780.8 L481.3 1786.8 L482.3 1793.4 L483.3 1793.6 L484.3 1790.4 L485.3 1794.2 L486.3 1783.3 L487.3 1794.2 L488.3 1793.6 L489.3 1797.9 L490.3 1796.1 L491.3 1795.8 L492.3 1796.3 L493.3 1796.2 L494.3 1794.3 L495.3 1797.6 L496.3 1800.0 L497.3 1799.1 L498.3 1800.7 L499.3 1802.0 L500.3 1803.1 L501.3 1803.7 L502.3 1804.4 L503.3 1803.2 L504.3 1803.2 L505.3 1805.0 L506.3 1797.8 L507.3 1804.1 L508.3 1806.8 L509.3 1807.0 L510.3 1806.9 L511.3 1808.8 L512.3 1800.0 L513.3 1798.8 L514.3 1808.2 L515.3 1808.6 L516.3 1809.7 L517.3 1803.9 L518.3 1809.0 L519.3 1811.2 L520.3 1802.6 L521.3 1813.5 L522.3 1813.3 L523.3 1817.1 L524.3 1808.9 L525.3 1805.3 L526.3 1817.2 L527.3 1816.0 L528.3 1807.6 L529.3 1810.7 L530.3 1818.2 L531.3 1819.7 L532.3 1812.7 L533.3 1819.4 L534.3 1819.1 L535.3 1822.8 L536.3 1821.3 L537.3 1823.2 L538.3 1824.1 L539.3 1824.2 L540.3 1821.7 L541.3 1824.4 L542.3 1823.8 L543.3 1822.8 L544.3 1818.9 L545.3 1825.6 L546.3 1825.7 L547.3 1818.4 L548.3 1826.2 L549.3 1819.3 L550.3 1815.4 L551.3 1815.5 L552.3 1824.7 L553.3 1827.1 L554.3 1819.3 L555.3 1831.1 L556.3 1830.4 L557.3 1832.4 L558.3 1833.2 L559.3 1831.3 L560.3 1830.7 L561.3 1834.1 L562.3 1834.6 L563.3 1834.8 L564.3 1831.6 L565.3 1829.9 L566.3 1833.8 L567.3 1835.1 L568.3 1833.8 L569.3 1831.4 L570.3 1827.6 L571.3 1836.9 L572.3 1837.4 L573.3 1836.7 L574.3 1837.3 L575.3 1836.4 L576.3 1825.4 L577.3 1839.0 L578.3 1837.7 L579.3 1841.7 L580.3 1832.0 L581.3 1837.7 L582.3 1832.0 L583.3 1841.0 L584.3 1841.6 L585.3 1840.5 L586.3 1843.6 L587.3 1841.9 L588.3 1841.9 L589.3 1844.0 L590.3 1837.4 L591.3 1844.1 L592.3 1842.8 L593.3 1844.5 L594.3 1844.0 L595.3 1845.2 L596.3 1834.6 L597.3 1846.0 L598.3 1846.2 L599.3 1845.7 L600.3 1846.4 L601.3 1847.2 L602.3 1849.3 L603.3 1850.3 L604.3 1847.2 L605.3 1840.7 L606.3 1842.0 L607.3 1849.9 L608.3 1848.4 L609.3 1847.1 L610.3 1849.7 L611.3 1839.4 L612.3 1851.4 L613.3 1842.8 L614.3 1852.5 L615.3 1850.4 L616.3 1853.2 L617.3 1851.4 L618.3 1847.2 L619.3 1854.9 L620.3 1855.3 L621.3 1854.7 L622.3 1847.7 L623.3 1848.6 L624.3 1852.6 L625.3 1856.5 L626.3 1855.3 L627.3 1851.3 L628.3 1856.0 L629.3 1847.5 L630.3 1846.1 L631.3 1848.7 L632.3 1858.6 L633.3 1857.4 L634.3 1855.2 L635.3 1856.5 L636.3 1856.8 L637.3 1857.3 L638.3 1858.3 L639.3 1859.9 L640.3 1857.8 L641.3 1859.6 L642.3 1860.5 L643.3 1858.0 L644.3 1857.8 L645.3 1858.7 L646.3 1860.4 L647.3 1858.4 L648.3 1858.6 L649.3 1855.1 L650.3 1849.6 L651.3 1858.9 L652.3 1862.5 L653.3 1856.4 L654.3 1861.4 L655.3 1863.7 L656.3 1863.3 L657.3 1858.2 L658.3 1861.5 L659.3 1862.8 L660.3 1862.7 L661.3 1852.0 L662.3 1864.0 L663.3 1864.2 L664.3 1858.1 L665.3 1862.5 L666.3 1864.9 L667.3 1863.1 L668.3 1861.0 L669.3 1865.8 L670.3 1867.2 L671.3 1864.7 L672.3 1864.4 L673.3 1866.5 L674.3 1867.2 L675.3 1868.2 L676.3 1866.4 L677.3 1869.1 L678.3 1866.1 L679.3 1867.3 L680.3 1868.9 L681.3 1868.5 L682.3 1868.4 L683.3 1868.3 L684.3 1868.8 L685.3 1869.7 L686.3 1869.5 L687.3 1866.1 L688.3 1861.3 L689.3 1870.6 L690.3 1865.8 L691.3 1859.1 L692.3 1869.2 L693.3 1869.7 L694.3 1869.8 L695.3 1871.0 L696.3 1868.6 L697.3 1869.5 L698.3 1870.1 L699.3 1873.1 L700.3 1869.6 L701.3 1873.1 L702.3 1872.5 L703.3 1864.7 L704.3 1871.7 L705.3 1872.6 L706.3 1873.7 L707.3 1870.7 L708.3 1872.8 L709.3 1863.6 L710.3 1868.8 L711.3 1872.5 L712.3 1872.4 L713.3 1871.0 L714.3 1873.9 L715.3 1873.6 L716.3 1864.6 L717.3 1866.4 L718.3 1872.1 L719.3 1874.0 L720.3 1872.1 L721.3 1873.2 L722.3 1872.9 L723.3 1863.3 L724.3 1873.3 L725.3 1875.6 L726.3 1873.1 L727.3 1865.4 L728.3 1876.4 L729.3 1875.7 L730.3 1875.1 L731.3 1875.9 L732.3 1875.9 L733.3 1874.6 L734.3 1877.1 L735.3 1876.0 L736.3 1874.0 L737.3 1876.7 L738.3 1867.1 L739.3 1875.9 L740.3 1876.6 L741.3 1868.4 L742.3 1866.8 L743.3 1877.6 L744.3 1878.2 L745.3 1876.8 L746.3 1872.0 L747.3 1877.0 L748.3 1874.2 L749.3 1869.6 L750.3 1878.3 L751.3 1870.0 L752.3 1879.7 L753.3 1876.7 L754.3 1866.2 L755.3 1870.9 L756.3 1866.0 L757.3 1880.4 L758.3 1872.4 L759.3 1880.8 L760.3 1868.4 L761.3 1878.6 L762.3 1879.6 L763.3 1869.2 L764.3 1879.6 L764.3 1891.7 L763.3 1894.5 L762.3 1894.2 L761.3 1894.8 L760.3 1892.4 L759.3 1891.8 L758.3 1894.0 L757.3 1893.3 L756.3 1890.9 L755.3 1892.3 L754.3 1893.7 L753.3 1901.1 L752.3 1890.8 L751.3 1891.9 L750.3 1892.1 L749.3 1890.1 L748.3 1893.6 L747.3 1890.6 L746.3 1892.6 L745.3 1889.9 L744.3 1892.5 L743.3 1898.4 L742.3 1889.8 L741.3 1893.1 L740.3 1891.2 L739.3 1895.7 L738.3 1891.6 L737.3 1889.6 L736.3 1899.4 L735.3 1888.9 L734.3 1891.3 L733.3 1888.1 L732.3 1891.1 L731.3 1890.6 L730.3 1889.1 L729.3 1888.3 L728.3 1888.7 L727.3 1890.0 L726.3 1890.5 L725.3 1889.1 L724.3 1889.2 L723.3 1889.2 L722.3 1887.5 L721.3 1888.6 L720.3 1888.1 L719.3 1899.8 L718.3 1886.3 L717.3 1897.2 L716.3 1888.1 L715.3 1886.1 L714.3 1889.3 L713.3 1886.8 L712.3 1887.4 L711.3 1897.8 L710.3 1887.6 L709.3 1888.7 L708.3 1887.8 L707.3 1888.1 L706.3 1885.1 L705.3 1898.0 L704.3 1887.0 L703.3 1886.0 L702.3 1894.7 L701.3 1894.0 L700.3 1889.6 L699.3 1886.2 L698.3 1895.2 L697.3 1885.3 L696.3 1888.0 L695.3 1885.0 L694.3 1883.4 L693.3 1892.7 L692.3 1886.5 L691.3 1887.5 L690.3 1884.3 L689.3 1887.0 L688.3 1883.0 L687.3 1882.3 L686.3 1883.2 L685.3 1889.6 L684.3 1881.1 L683.3 1885.6 L682.3 1880.9 L681.3 1887.4 L680.3 1882.6 L679.3 1894.8 L678.3 1881.9 L677.3 1880.4 L676.3 1881.2 L675.3 1879.4 L674.3 1880.8 L673.3 1879.8 L672.3 1880.5 L671.3 1881.2 L670.3 1880.9 L669.3 1890.2 L668.3 1879.6 L667.3 1891.8 L666.3 1880.4 L665.3 1880.2 L664.3 1878.6 L663.3 1882.9 L662.3 1888.9 L661.3 1879.2 L660.3 1882.6 L659.3 1885.3 L658.3 1875.9 L657.3 1889.1 L656.3 1876.7 L655.3 1875.4 L654.3 1880.7 L653.3 1877.5 L652.3 1873.9 L651.3 1876.1 L650.3 1875.1 L649.3 1875.7 L648.3 1881.8 L647.3 1873.3 L646.3 1882.7 L645.3 1873.1 L644.3 1873.9 L643.3 1872.1 L642.3 1873.2 L641.3 1875.4 L640.3 1873.8 L639.3 1871.9 L638.3 1872.0 L637.3 1874.1 L636.3 1870.5 L635.3 1869.8 L634.3 1883.2 L633.3 1872.2 L632.3 1872.0 L631.3 1878.0 L630.3 1871.8 L629.3 1870.1 L628.3 1872.1 L627.3 1875.0 L626.3 1880.5 L625.3 1870.8 L624.3 1869.9 L623.3 1867.5 L622.3 1867.7 L621.3 1869.7 L620.3 1877.0 L619.3 1877.0 L618.3 1867.7 L617.3 1866.3 L616.3 1867.1 L615.3 1867.3 L614.3 1865.9 L613.3 1865.2 L612.3 1868.7 L611.3 1872.2 L610.3 1866.8 L609.3 1863.1 L608.3 1866.6 L607.3 1864.9 L606.3 1876.8 L605.3 1874.5 L604.3 1862.2 L603.3 1861.7 L602.3 1862.4 L601.3 1861.5 L600.3 1864.1 L599.3 1860.6 L598.3 1863.0 L597.3 1859.4 L596.3 1861.5 L595.3 1871.3 L594.3 1861.1 L593.3 1861.9 L592.3 1863.8 L591.3 1863.1 L590.3 1860.0 L589.3 1858.2 L588.3 1859.8 L587.3 1858.8 L586.3 1858.9 L585.3 1866.5 L584.3 1869.4 L583.3 1855.5 L582.3 1865.4 L581.3 1856.3 L580.3 1855.5 L579.3 1853.8 L578.3 1855.5 L577.3 1857.9 L576.3 1854.8 L575.3 1854.7 L574.3 1859.7 L573.3 1854.3 L572.3 1851.9 L571.3 1850.1 L570.3 1850.2 L569.3 1850.1 L568.3 1852.6 L567.3 1852.0 L566.3 1861.8 L565.3 1848.3 L564.3 1859.9 L563.3 1850.6 L562.3 1852.2 L561.3 1847.0 L560.3 1858.7 L559.3 1852.8 L558.3 1848.5 L557.3 1844.0 L556.3 1852.9 L555.3 1844.3 L554.3 1846.3 L553.3 1849.1 L552.3 1845.8 L551.3 1842.6 L550.3 1844.4 L549.3 1848.9 L548.3 1841.1 L547.3 1848.2 L546.3 1842.5 L545.3 1839.4 L544.3 1840.5 L543.3 1838.7 L542.3 1849.2 L541.3 1841.5 L540.3 1836.9 L539.3 1838.5 L538.3 1839.5 L537.3 1836.2 L536.3 1836.2 L535.3 1835.5 L534.3 1847.1 L533.3 1837.6 L532.3 1835.4 L531.3 1834.2 L530.3 1837.3 L529.3 1835.5 L528.3 1832.6 L527.3 1834.1 L526.3 1830.7 L525.3 1832.3 L524.3 1830.1 L523.3 1831.9 L522.3 1828.7 L521.3 1829.5 L520.3 1830.2 L519.3 1829.3 L518.3 1825.7 L517.3 1825.4 L516.3 1828.7 L515.3 1836.4 L514.3 1838.0 L513.3 1826.3 L512.3 1824.2 L511.3 1824.4 L510.3 1828.4 L509.3 1824.0 L508.3 1824.2 L507.3 1823.7 L506.3 1821.2 L505.3 1818.8 L504.3 1821.1 L503.3 1821.6 L502.3 1818.1 L501.3 1817.0 L500.3 1828.4 L499.3 1818.2 L498.3 1816.8 L497.3 1815.5 L496.3 1816.6 L495.3 1815.3 L494.3 1812.9 L493.3 1812.6 L492.3 1819.5 L491.3 1813.3 L490.3 1813.1 L489.3 1822.3 L488.3 1813.2 L487.3 1809.1 L486.3 1809.4 L485.3 1807.0 L484.3 1807.2 L483.3 1807.7 L482.3 1806.6 L481.3 1804.8 L480.3 1805.8 L479.3 1805.9 L478.3 1806.3 L477.3 1818.4 L476.3 1804.2 L475.3 1804.3 L474.3 1801.2 L473.3 1801.1 L472.3 1799.5 L471.3 1800.5 L470.3 1809.8 L469.3 1796.6 L468.3 1797.0 L467.3 1797.0 L466.3 1796.7 L465.3 1795.7 L464.3 1800.9 L463.3 1797.1 L462.3 1793.9 L461.3 1802.7 L460.3 1802.3 L459.3 1799.8 L458.3 1794.9 L457.3 1795.2 L456.3 1788.9 L455.3 1791.5 L454.3 1789.0 L453.3 1787.3 L452.3 1785.6 L451.3 1786.6 L450.3 1792.1 L449.3 1781.4 L448.3 1781.1 L447.3 1784.1 L446.3 1780.2 L445.3 1781.8 L444.3 1781.0 L443.3 1777.1 L442.3 1776.4 L441.3 1775.2 L440.3 1777.0 L439.3 1778.6 L438.3 1774.9 L437.3 1773.8 L436.3 1773.6 L435.3 1773.6 L434.3 1770.3 L433.3 1770.4 L432.3 1769.8 L431.3 1770.0 L430.3 1767.6 L429.3 1767.2 L428.3 1764.1 L427.3 1763.8 L426.3 1766.6 L425.3 1763.8 L424.3 1763.9 L423.3 1764.2 L422.3 1761.8 L421.3 1762.5 L420.3 1758.1 L419.3 1771.5 L418.3 1759.7 L417.3 1757.8 L416.3 1756.8 L415.3 1763.7 L414.3 1758.0 L413.3 1757.0 L412.3 1755.3 L411.3 1750.8 L410.3 1755.0 L409.3 1762.3 L408.3 1748.2 L407.3 1760.1 L406.3 1748.6 L405.3 1746.6 L404.3 1747.6 L403.3 1753.8 L402.3 1744.9 L401.3 1742.5 L400.3 1741.4 L399.3 1753.3 L398.3 1742.4 L397.3 1750.8 L396.3 1740.0 L395.3 1739.2 L394.3 1735.1 L393.3 1735.9 L392.3 1733.8 L391.3 1733.4 L390.3 1729.0 L389.3 1736.5 L388.3 1726.6 L387.3 1727.0 L386.3 1727.7 L385.3 1726.0 L384.3 1726.2 L383.3 1723.3 L382.3 1729.6 L381.3 1722.3 L380.3 1720.8 L379.3 1715.6 L378.3 1725.9 L377.3 1719.2 L376.3 1715.1 L375.3 1713.8 L374.3 1713.0 L373.3 1708.6 L372.3 1711.2 L371.3 1710.1 L370.3 1706.7 L369.3 1706.6 L368.3 1703.3 L367.3 1704.2 L366.3 1704.2 L365.3 1705.5 L364.3 1715.3 L363.3 1699.8 L362.3 1695.4 L361.3 1706.1 L360.3 1694.5 L359.3 1696.3 L358.3 1708.7 L357.3 1693.0 L356.3 1694.8 L355.3 1705.0 L354.3 1690.4 L353.3 1687.5 L352.3 1686.6 L351.3 1687.3 L350.3 1696.5 L349.3 1688.6 L348.3 1685.9 L347.3 1689.5 L346.3 1682.8 L345.3 1681.2 L344.3 1684.7 L343.3 1685.2 L342.3 1684.0 L341.3 1695.8 L340.3 1684.6 L339.3 1680.0 L338.3 1678.1 L337.3 1677.4 L336.3 1681.4 L335.3 1690.9 L334.3 1679.1 L333.3 1678.5 L332.3 1681.0 L331.3 1692.4 L330.3 1677.9 L329.3 1685.2 L328.3 1677.1 L327.3 1682.0 L326.3 1682.4 L325.3 1677.5 L324.3 1686.0 L323.3 1681.7 L322.3 1680.7 L321.3 1688.0 L320.3 1679.2 L319.3 1682.4 L318.3 1684.1 L317.3 1682.6 L316.3 1682.2 L315.3 1682.0 L314.3 1685.1 L313.3 1685.8 L312.3 1686.2 L311.3 1686.9 L310.3 1684.2 L309.3 1683.9 L308.3 1685.4 L307.3 1686.0 L306.3 1689.8 L305.3 1687.2 L304.3 1695.9 L303.3 1691.6 L302.3 1693.7 L301.3 1696.1 L300.3 1706.0 L299.3 1696.3 L298.3 1694.5 L297.3 1697.4 L296.3 1697.2 L295.3 1699.7 L294.3 1701.3 L293.3 1701.8 L292.3 1713.9 L291.3 1702.4 L290.3 1702.5 L289.3 1706.5 L288.3 1719.3 L287.3 1708.2 L286.3 1709.3 L285.3 1710.1 L284.3 1715.3 L283.3 1709.2 L282.3 1714.5 L281.3 1725.5 L280.3 1716.6 L279.3 1716.3 L278.3 1720.9 L277.3 1716.9 L276.3 1718.0 L275.3 1721.4 L274.3 1720.6 L273.3 1736.0 L272.3 1725.1 L271.3 1729.1 L270.3 1729.7 L269.3 1726.4 L268.3 1736.9 L267.3 1729.2 L266.3 1745.3 L265.3 1747.2 L264.3 1736.7 L263.3 1738.7 L262.3 1738.1 L261.3 1738.7 L260.3 1742.1 L259.3 1744.5 L258.3 1741.8 L257.3 1747.0 L256.3 1748.7 L255.3 1748.8 L254.3 1750.4 L253.3 1751.1 L252.3 1752.9 L251.3 1752.6 L250.3 1753.9 L249.3 1757.6 L248.3 1763.7 L247.3 1759.2 L246.3 1760.2 L245.3 1767.8 L244.3 1769.9 L243.3 1763.7 L242.3 1774.4 L241.3 1769.7 L240.3 1771.3 L239.3 1770.7 L238.3 1769.8 L237.3 1774.0 L236.3 1776.7 L235.3 1776.5 L234.3 1777.6 L233.3 1780.5 L232.3 1778.0 L231.3 1788.5 L230.3 1782.5 L229.3 1783.3 L228.3 1785.1 L227.3 1786.0 L226.3 1798.9 L225.3 1786.9 L224.3 1788.9 L223.3 1791.1 L222.3 1800.9 L221.3 1793.6 L220.3 1792.8 L219.3 1794.7 L218.3 1795.3 L217.3 1800.5 L216.3 1798.9 L215.3 1797.5 L214.3 1799.1 L213.3 1801.3 L212.3 1800.9 L211.3 1808.0 L210.3 1803.4 L209.3 1806.4 L208.3 1804.6 L207.3 1816.9 L206.3 1806.7 L205.3 1807.0 L204.3 1808.7 L203.3 1808.2 L202.3 1819.4 L201.3 1809.1 L200.3 1812.5 L199.3 1812.9 L198.3 1814.4 L197.3 1813.3 L196.3 1816.4 L195.3 1815.3 L194.3 1815.1 L193.3 1819.2 L192.3 1816.9 L191.3 1821.7 L190.3 1819.7 L189.3 1820.4 L188.3 1822.9 L187.3 1820.0 L186.3 1822.7 L185.3 1825.1 L184.3 1834.7 L183.3 1824.4 L182.3 1825.5 L181.3 1825.2 L180.3 1828.9 L179.3 1826.6 L178.3 1834.6 L177.3 1830.0 L176.3 1828.6 L175.3 1833.7 L174.3 1833.8 L173.3 1842.0 L172.3 1831.2 L171.3 1834.5 L170.3 1832.5 L169.3 1835.7 L168.3 1835.3 L167.3 1834.8 L166.3 1836.8 L165.3 1834.7 L164.3 1837.3 L163.3 1842.1 L162.3 1839.3 L161.3 1843.1 L160.3 1837.0 L159.3 1841.7 L158.3 1841.4 L157.3 1838.6 L156.3 1842.2 L155.3 1843.3 L154.3 1841.2 L153.3 1842.8 L152.3 1841.0 L151.3 1842.0 L150.3 1843.8 L149.3 1852.6 L148.3 1852.6 L147.3 1847.2 L146.3 1845.0 L145.3 1854.6 L144.3 1858.8 L143.3 1849.4 L142.3 1850.2 L141.3 1850.4 L140.3 1857.3 L139.3 1851.2 L138.3 1849.4 L137.3 1852.5 L136.3 1851.1 L135.3 1851.3 L134.3 1854.1 L133.3 1854.1 L132.3 1853.9 L131.3 1860.0 L130.3 1852.1 L129.3 1852.3 L128.3 1859.3 L127.3 1856.7 L126.3 1859.7 L125.3 1857.0 L124.3 1855.1 L123.3 1856.5 L122.3 1857.7 L121.3 1855.7 L120.3 1857.5 L119.3 1867.3 L118.3 1860.9 L117.3 1859.6 L116.3 1861.1 L115.3 1874.1 L114.3 1858.3 L113.3 1858.5 L112.3 1861.9 L111.3 1872.1 L110.3 1866.6 L109.3 1869.2 L108.3 1869.2 L107.3 1872.6 L106.3 1863.8 L105.3 1866.0 L104.3 1866.0 L103.3 1864.8 L102.3 1863.1 L101.3 1874.6 L100.3 1866.7 L99.3 1872.8 L98.3 1868.5 L97.3 1865.3 L96.3 1872.4 L95.3 1874.2 L94.3 1866.8 L93.3 1866.7 L92.3 1872.7 L91.3 1870.6 L90.3 1869.7 L89.3 1870.6 L88.3 1872.4 L87.3 1880.9 L86.3 1876.3 L85.3 1873.3 L84.3 1872.0 L83.3 1872.1 L82.3 1884.2 L81.3 1874.7 L80.3 1874.0 L79.3 1878.9 L78.3 1873.4 L77.3 1873.1 L76.3 1876.5 L75.3 1874.9 L74.3 1875.6 L73.3 1877.0Z" fill="#000" stroke="#000" stroke-width="0.9" stroke-linejoin="bevel"/>
<rect x="72.1" y="1399.2" width="693.6" height="558.8" fill="none" stroke="#000" stroke-width="3.2"/>
<line x1="149.2" y1="1958.0" x2="149.2" y2="1969.5" stroke="#000" stroke-width="3"/>
<text x="149.2" y="2003.5" font-size="33.5" text-anchor="middle" class="b" fill="#000">10</text>
<line x1="303.3" y1="1958.0" x2="303.3" y2="1969.5" stroke="#000" stroke-width="3"/>
<text x="303.3" y="2003.5" font-size="33.5" text-anchor="middle" class="b" fill="#000">20</text>
<line x1="457.4" y1="1958.0" x2="457.4" y2="1969.5" stroke="#000" stroke-width="3"/>
<text x="457.4" y="2003.5" font-size="33.5" text-anchor="middle" class="b" fill="#000">30</text>
<line x1="611.6" y1="1958.0" x2="611.6" y2="1969.5" stroke="#000" stroke-width="3"/>
<text x="611.6" y="2003.5" font-size="33.5" text-anchor="middle" class="b" fill="#000">40</text>
<line x1="765.7" y1="1958.0" x2="765.7" y2="1969.5" stroke="#000" stroke-width="3"/>
<text x="765.7" y="2003.5" font-size="33.5" text-anchor="middle" class="b" fill="#000">50</text>
<line x1="72.1" y1="1958.0" x2="72.1" y2="1964.5" stroke="#000" stroke-width="2.8"/>
<line x1="226.2" y1="1958.0" x2="226.2" y2="1964.5" stroke="#000" stroke-width="2.8"/>
<line x1="380.4" y1="1958.0" x2="380.4" y2="1964.5" stroke="#000" stroke-width="2.8"/>
<line x1="534.5" y1="1958.0" x2="534.5" y2="1964.5" stroke="#000" stroke-width="2.8"/>
<line x1="688.6" y1="1958.0" x2="688.6" y2="1964.5" stroke="#000" stroke-width="2.8"/>
<text x="417" y="2054.6" font-size="43" text-anchor="middle" class="b" fill="#000">2θ (degree)</text>
<text transform="translate(47 1678) rotate(-90)" font-size="40" text-anchor="middle" class="b" fill="#000">Intensity (a.u.)</text>
<text x="98.8" y="1457.6" font-size="55" textLength="30.5" lengthAdjust="spacingAndGlyphs" fill="#000" stroke="#000" stroke-width="1.5">e</text>
<line x1="499.4" y1="1458.2" x2="579" y2="1458.2" stroke="#000" stroke-width="2.4"/>
<text x="601" y="1470.2" font-size="36.5" textLength="73.8" lengthAdjust="spacingAndGlyphs" class="b" fill="#000">CQD</text>
<line x1="499.4" y1="1500" x2="579" y2="1500" stroke="#f03c3e" stroke-width="2.4"/>
<text x="593" y="1511.6" font-size="36.5" textLength="161.5" lengthAdjust="spacingAndGlyphs" class="b" fill="#000">N-CQD-13</text>
</g>
<g id="panel-f">
<path d="M859.1 1531.3 C866.5 1531.3 876.1 1531.6 886.9 1531.3 C897.6 1531.1 894.1 1528.3 899.5 1530.3 C904.9 1532.3 903.0 1537.0 907.1 1538.9 C911.1 1540.8 910.6 1534.7 914.6 1537.4 C918.7 1540.1 917.5 1539.2 922.2 1549.0 C926.9 1558.8 926.9 1561.4 932.3 1574.2 C937.7 1587.0 937.0 1587.1 942.4 1596.9 C947.7 1606.7 947.1 1605.2 952.5 1611.0 C957.8 1616.8 957.2 1615.6 962.5 1618.6 C967.9 1621.5 965.9 1621.6 972.6 1622.1 C979.4 1622.7 981.0 1621.3 987.8 1620.6 C994.5 1619.9 992.5 1619.5 997.9 1619.6 C1003.2 1619.7 1002.6 1621.8 1007.9 1621.1 C1013.3 1620.4 1012.6 1619.8 1018.0 1617.1 C1023.4 1614.4 1022.7 1615.1 1028.1 1611.0 C1033.5 1607.0 1032.8 1606.4 1038.2 1601.9 C1043.6 1597.5 1043.6 1596.8 1048.3 1594.4 C1053.0 1592.0 1051.8 1592.2 1055.9 1592.9 C1059.9 1593.5 1059.4 1597.4 1063.4 1596.9 C1067.5 1596.4 1065.6 1595.6 1071.0 1590.8 C1076.4 1586.1 1076.2 1585.4 1083.6 1579.2 C1091.0 1573.1 1089.3 1573.4 1098.7 1567.6 C1108.2 1561.9 1108.2 1562.5 1118.9 1557.6 C1129.7 1552.6 1128.3 1554.0 1139.1 1549.0 C1149.9 1544.0 1151.2 1542.9 1159.3 1538.9 C1167.3 1534.9 1165.3 1532.1 1169.4 1533.8 C1173.4 1535.6 1171.0 1543.7 1174.4 1545.4 C1177.8 1547.2 1177.9 1545.2 1182.0 1540.4 C1186.0 1535.6 1184.8 1531.7 1189.5 1527.3 C1194.2 1522.8 1191.5 1525.1 1199.6 1523.8 C1207.7 1522.4 1209.0 1522.9 1219.8 1522.2 C1230.6 1521.6 1229.2 1521.9 1240.0 1521.2 C1250.7 1520.6 1250.1 1520.5 1260.1 1519.7 C1270.2 1518.9 1271.1 1518.1 1277.8 1518.2 C1284.5 1518.3 1281.3 1516.1 1285.4 1520.2 C1289.4 1524.4 1288.9 1524.2 1292.9 1533.8 C1297.0 1543.5 1296.5 1543.8 1300.5 1556.5 C1304.5 1569.3 1304.0 1571.0 1308.1 1581.8 C1312.1 1592.5 1311.6 1589.9 1315.6 1596.9 C1319.7 1603.9 1319.8 1607.3 1323.2 1608.0 C1326.6 1608.7 1325.6 1606.4 1328.2 1599.4 C1330.9 1592.4 1330.6 1586.7 1333.3 1581.8 C1336.0 1576.8 1335.6 1582.8 1338.3 1580.8 C1341.0 1578.7 1340.7 1573.3 1343.4 1574.2 C1346.1 1575.1 1345.7 1580.3 1348.4 1584.3 C1351.1 1588.3 1350.8 1586.0 1353.5 1589.3 C1356.2 1592.7 1356.2 1594.6 1358.5 1596.9 C1360.8 1599.2 1359.4 1600.6 1362.0 1597.9 C1364.7 1595.2 1364.8 1592.2 1368.6 1586.8 C1372.4 1581.4 1372.1 1581.8 1376.2 1577.7 C1380.2 1573.7 1379.7 1573.6 1383.7 1571.7 C1387.8 1569.8 1387.3 1572.0 1391.3 1570.7 C1395.3 1569.3 1395.5 1569.7 1398.9 1566.6 C1402.2 1563.5 1400.5 1560.7 1403.9 1559.1 C1407.3 1557.5 1408.1 1554.8 1411.5 1560.6 C1414.8 1566.4 1413.8 1577.1 1416.5 1580.8 C1419.2 1584.4 1418.9 1576.4 1421.6 1574.2 C1424.3 1572.0 1423.9 1570.0 1426.6 1572.7 C1429.3 1575.4 1429.0 1585.9 1431.6 1584.3 C1434.3 1582.7 1434.0 1576.7 1436.7 1566.6 C1439.4 1556.5 1438.4 1556.1 1441.7 1546.5 C1445.1 1536.8 1445.3 1535.4 1449.3 1530.3 C1453.3 1525.2 1452.8 1528.0 1456.9 1527.3 C1460.9 1526.6 1460.4 1526.3 1464.4 1527.8 C1468.5 1529.3 1467.3 1531.2 1472.0 1532.8 C1476.7 1534.5 1476.7 1532.9 1482.1 1533.8 C1487.5 1534.8 1486.1 1533.7 1492.2 1536.4 C1498.2 1539.1 1498.1 1542.3 1504.8 1543.9 C1511.5 1545.5 1511.3 1543.1 1517.4 1542.4 C1523.5 1541.7 1522.8 1543.4 1527.5 1541.4 C1532.2 1539.4 1531.0 1536.9 1535.1 1534.9 C1539.1 1532.8 1538.2 1534.0 1542.6 1533.8 C1547.1 1533.7 1549.3 1534.2 1551.7 1534.4" fill="none" stroke="#d81c24" stroke-width="2.8" stroke-linejoin="round"/>
<path d="M859.1 1772.4 C861.8 1771.4 863.8 1771.5 869.2 1768.4 C874.6 1765.3 874.6 1763.8 879.3 1760.8 C884.0 1757.9 882.8 1757.3 886.9 1757.3 C890.9 1757.3 891.1 1758.1 894.4 1760.8 C897.8 1763.5 896.4 1767.8 899.5 1767.4 C902.6 1767.0 902.7 1759.3 906.1 1759.3 C909.4 1759.3 908.5 1765.2 912.1 1767.4 C915.7 1769.5 915.6 1766.4 919.7 1767.4 C923.7 1768.3 923.2 1767.3 927.2 1770.9 C931.3 1774.6 930.8 1773.6 934.8 1781.0 C938.8 1788.4 937.7 1789.2 942.4 1798.7 C947.1 1808.1 947.1 1808.9 952.5 1816.3 C957.8 1823.7 957.2 1822.8 962.5 1826.4 C967.9 1830.0 967.3 1830.3 972.6 1829.9 C978.0 1829.5 977.3 1828.1 982.7 1824.9 C988.1 1821.7 986.1 1822.1 992.8 1817.8 C999.5 1813.5 999.9 1813.6 1007.9 1808.8 C1016.0 1803.9 1015.0 1804.4 1023.1 1799.7 C1031.1 1795.0 1031.8 1794.1 1038.2 1791.1 C1044.7 1788.1 1043.3 1786.6 1047.3 1788.6 C1051.3 1790.6 1050.4 1794.9 1053.3 1798.7 C1056.3 1802.4 1055.0 1802.7 1058.4 1802.7 C1061.7 1802.7 1061.2 1802.2 1065.9 1798.7 C1070.7 1795.2 1070.0 1795.2 1076.0 1789.6 C1082.1 1783.9 1082.6 1782.1 1088.6 1777.5 C1094.7 1772.9 1090.7 1775.1 1098.7 1772.4 C1106.8 1769.7 1108.2 1769.8 1118.9 1767.4 C1129.7 1765.0 1128.3 1765.8 1139.1 1763.4 C1149.9 1760.9 1149.9 1760.7 1159.3 1758.3 C1168.7 1755.9 1166.3 1755.6 1174.4 1754.3 C1182.5 1752.9 1178.8 1754.2 1189.5 1753.3 C1200.3 1752.3 1201.3 1751.4 1214.8 1750.7 C1228.2 1750.1 1227.9 1751.1 1240.0 1750.7 C1252.1 1750.3 1250.7 1750.7 1260.1 1749.2 C1269.6 1747.8 1269.2 1745.5 1275.3 1745.2 C1281.3 1744.9 1278.8 1743.4 1282.8 1748.2 C1286.9 1753.1 1286.8 1755.3 1290.4 1763.4 C1294.0 1771.4 1293.8 1771.5 1296.5 1778.5 C1299.2 1785.5 1298.1 1788.2 1300.5 1789.6 C1302.9 1790.9 1302.9 1787.2 1305.5 1783.5 C1308.2 1779.9 1307.9 1776.0 1310.6 1776.0 C1313.3 1776.0 1312.9 1777.5 1315.6 1783.5 C1318.3 1789.6 1318.3 1796.0 1320.7 1798.7 C1323.1 1801.4 1322.7 1801.7 1324.7 1793.6 C1326.7 1785.5 1326.4 1779.8 1328.2 1768.4 C1330.1 1757.0 1329.8 1755.5 1331.8 1750.7 C1333.8 1746.0 1333.4 1748.1 1335.8 1750.7 C1338.2 1753.4 1337.9 1754.8 1340.9 1760.8 C1343.8 1766.9 1343.5 1767.1 1346.9 1773.4 C1350.3 1779.8 1349.7 1781.2 1353.5 1784.5 C1357.2 1787.9 1356.3 1786.6 1361.0 1786.1 C1365.7 1785.5 1365.7 1783.2 1371.1 1782.5 C1376.5 1781.8 1375.8 1782.6 1381.2 1783.5 C1386.6 1784.5 1386.6 1786.7 1391.3 1786.1 C1396.0 1785.4 1395.5 1785.0 1398.9 1781.0 C1402.2 1777.0 1401.2 1775.4 1403.9 1770.9 C1406.6 1766.5 1406.3 1765.3 1409.0 1764.4 C1411.6 1763.4 1411.3 1765.2 1414.0 1767.4 C1416.7 1769.5 1416.8 1772.2 1419.0 1772.4 C1421.3 1772.7 1420.6 1768.1 1422.6 1768.4 C1424.6 1768.7 1424.2 1773.4 1426.6 1773.4 C1429.0 1773.4 1429.0 1775.1 1431.6 1768.4 C1434.3 1761.7 1434.0 1756.0 1436.7 1748.2 C1439.4 1740.4 1438.4 1742.9 1441.7 1739.1 C1445.1 1735.4 1445.3 1736.0 1449.3 1734.1 C1453.3 1732.2 1452.8 1731.7 1456.9 1732.1 C1460.9 1732.5 1460.4 1735.3 1464.4 1735.6 C1468.5 1735.9 1467.3 1734.8 1472.0 1733.1 C1476.7 1731.3 1476.7 1730.4 1482.1 1729.1 C1487.5 1727.7 1485.5 1728.6 1492.2 1728.0 C1498.9 1727.5 1500.6 1727.3 1507.3 1727.0 C1514.0 1726.8 1512.0 1726.8 1517.4 1727.0 C1522.8 1727.3 1522.8 1730.5 1527.5 1728.0 C1532.2 1725.6 1531.0 1722.4 1535.1 1718.0 C1539.1 1713.5 1538.2 1713.0 1542.6 1711.4 C1547.1 1709.8 1549.3 1711.8 1551.7 1711.9" fill="none" stroke="#2b2b2b" stroke-width="2.8" stroke-linejoin="round"/>
<line x1="972.6" y1="1540.4" x2="972.6" y2="1879.4" stroke="#111" stroke-width="2.3" stroke-dasharray="21 5.8 3 5.8"/>
<line x1="1011.0" y1="1590.8" x2="1011.0" y2="1929.8" stroke="#111" stroke-width="2.3" stroke-dasharray="21 5.8 3 5.8"/>
<line x1="1062.9" y1="1542.4" x2="1062.9" y2="1881.9" stroke="#111" stroke-width="2.3" stroke-dasharray="21 5.8 3 5.8"/>
<line x1="1324.7" y1="1521.2" x2="1324.7" y2="1861.7" stroke="#111" stroke-width="2.3" stroke-dasharray="21 5.8 3 5.8"/>
<line x1="1362.0" y1="1567.6" x2="1362.0" y2="1909.6" stroke="#111" stroke-width="2.3" stroke-dasharray="21 5.8 3 5.8"/>
<line x1="1430.1" y1="1523.8" x2="1430.1" y2="1861.7" stroke="#111" stroke-width="2.3" stroke-dasharray="21 5.8 3 5.8"/>
<rect x="859.1" y="1399.2" width="697.1" height="565.1" fill="none" stroke="#000" stroke-width="3.2"/>
<line x1="859.1" y1="1964.3" x2="859.1" y2="1973.3" stroke="#000" stroke-width="3"/>
<text x="858.3" y="2010.3" font-size="34.5" text-anchor="middle" class="b" fill="#000">4000</text>
<line x1="956.0" y1="1964.3" x2="956.0" y2="1973.3" stroke="#000" stroke-width="3"/>
<text x="955.2" y="2010.3" font-size="34.5" text-anchor="middle" class="b" fill="#000">3500</text>
<line x1="1053.0" y1="1964.3" x2="1053.0" y2="1973.3" stroke="#000" stroke-width="3"/>
<text x="1052.2" y="2010.3" font-size="34.5" text-anchor="middle" class="b" fill="#000">3000</text>
<line x1="1150.0" y1="1964.3" x2="1150.0" y2="1973.3" stroke="#000" stroke-width="3"/>
<text x="1149.2" y="2010.3" font-size="34.5" text-anchor="middle" class="b" fill="#000">2500</text>
<line x1="1246.9" y1="1964.3" x2="1246.9" y2="1973.3" stroke="#000" stroke-width="3"/>
<text x="1246.1" y="2010.3" font-size="34.5" text-anchor="middle" class="b" fill="#000">2000</text>
<line x1="1343.8" y1="1964.3" x2="1343.8" y2="1973.3" stroke="#000" stroke-width="3"/>
<text x="1343.0" y="2010.3" font-size="34.5" text-anchor="middle" class="b" fill="#000">1500</text>
<line x1="1440.8" y1="1964.3" x2="1440.8" y2="1973.3" stroke="#000" stroke-width="3"/>
<text x="1440.0" y="2010.3" font-size="34.5" text-anchor="middle" class="b" fill="#000">1000</text>
<line x1="1537.8" y1="1964.3" x2="1537.8" y2="1973.3" stroke="#000" stroke-width="3"/>
<text x="1537.0" y="2010.3" font-size="34.5" text-anchor="middle" class="b" fill="#000">500</text>
<line x1="907.6" y1="1964.3" x2="907.6" y2="1969.3" stroke="#000" stroke-width="2.8"/>
<line x1="1004.5" y1="1964.3" x2="1004.5" y2="1969.3" stroke="#000" stroke-width="2.8"/>
<line x1="1101.5" y1="1964.3" x2="1101.5" y2="1969.3" stroke="#000" stroke-width="2.8"/>
<line x1="1198.4" y1="1964.3" x2="1198.4" y2="1969.3" stroke="#000" stroke-width="2.8"/>
<line x1="1295.4" y1="1964.3" x2="1295.4" y2="1969.3" stroke="#000" stroke-width="2.8"/>
<line x1="1392.3" y1="1964.3" x2="1392.3" y2="1969.3" stroke="#000" stroke-width="2.8"/>
<line x1="1489.3" y1="1964.3" x2="1489.3" y2="1969.3" stroke="#000" stroke-width="2.8"/>
<text x="1205.5" y="2073" font-size="35" text-anchor="middle" class="b" fill="#000">Wavenumber (cm<tspan dy="-13" font-size="23">-1</tspan><tspan dy="13">)</tspan></text>
<text transform="translate(830 1682) rotate(-90)" font-size="43.5" text-anchor="middle" class="b" fill="#000">Transmittance (%)</text>
<text x="889.5" y="1460.7" font-size="58" class="b" fill="#000">f</text>
<line x1="1109.8" y1="1428" x2="1176.9" y2="1428" stroke="#2b2b2b" stroke-width="2.5"/>
<text x="1193.6" y="1439.5" font-size="34" class="b" fill="#000">CQD</text>
<line x1="1109.8" y1="1464.4" x2="1176.9" y2="1464.4" stroke="#d81c24" stroke-width="2.5"/>
<text x="1192" y="1471.8" font-size="34" class="b" fill="#000">N-CQD-13</text>
<text x="971.1" y="1522.7" font-size="28.5" text-anchor="middle" fill="#111" stroke="#111" stroke-width="1.0">3405</text>
<text x="1012.0" y="1572.7" font-size="28.5" text-anchor="middle" fill="#111" stroke="#111" stroke-width="1.0">3212</text>
<text x="1065.9" y="1537.9" font-size="28.5" text-anchor="middle" fill="#111" stroke="#111" stroke-width="1.0">2950</text>
<text x="1323.2" y="1516.2" font-size="28.5" text-anchor="middle" fill="#111" stroke="#111" stroke-width="1.0">1597</text>
<text x="1362.0" y="1556.5" font-size="28.5" text-anchor="middle" fill="#111" stroke="#111" stroke-width="1.0">1400</text>
<text x="1430.6" y="1506.1" font-size="28.5" text-anchor="middle" fill="#111" stroke="#111" stroke-width="1.0">1045</text>
<text x="963.6" y="1908.6" font-size="28" text-anchor="middle" class="b" fill="#111">O-H</text>
<text x="1012.0" y="1948.0" font-size="28" text-anchor="middle" class="b" fill="#111">N-H</text>
<text x="1070.0" y="1913.7" font-size="28" text-anchor="middle" class="b" fill="#111">C-H</text>
<text x="1318.2" y="1896.0" font-size="28" text-anchor="middle" class="b" fill="#111">C=C</text>
<text x="1364.6" y="1943.9" font-size="28" text-anchor="middle" class="b" fill="#111">C-N</text>
<text x="1429.1" y="1895.0" font-size="28" text-anchor="middle" class="b" fill="#111">C-O</text>
</g>
</svg>
</body></html>
